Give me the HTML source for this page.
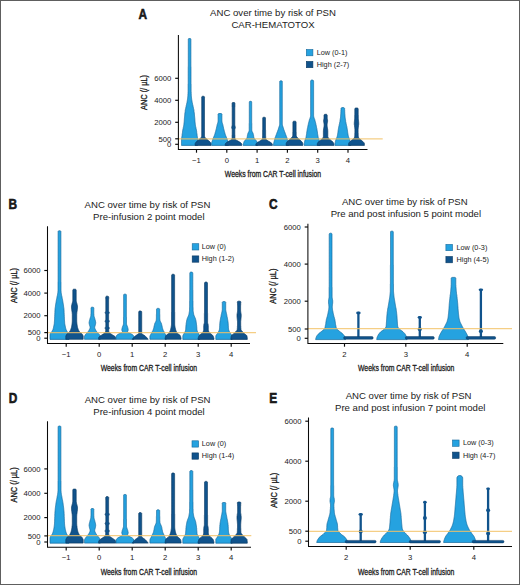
<!DOCTYPE html><html><head><meta charset="utf-8"><style>html,body{margin:0;padding:0;background:#fff;}svg{display:block;}text{font-family:"Liberation Sans",sans-serif;fill:#222;}</style></head><body>
<svg width="520" height="585" viewBox="0 0 520 585">
<rect x="0" y="0" width="520" height="585" fill="#fff"/>
<text x="0" y="0" font-size="13.8" font-weight="bold" fill="#000" stroke="#000" stroke-width="0.5" transform="translate(138.6,19) scale(0.86,1)">A</text>
<text x="273" y="15.8" font-size="9.6" text-anchor="middle" font-weight="normal" >ANC over time by risk of PSN</text>
<text x="273" y="27.9" font-size="9.6" text-anchor="middle" font-weight="normal" >CAR-HEMATOTOX</text>
<path d="M190.1,38.5 190.4,38.6 190.7,38.7 190.8,39 190.9,39.3 190.9,39.9 190.9,40.5 190.9,41.1 190.9,41.7 190.9,42.3 190.9,42.9 190.9,43.5 190.9,44.1 190.9,44.7 190.9,45.3 190.9,45.9 190.9,46.5 190.9,47.1 190.9,47.7 190.9,48.3 190.9,48.9 190.9,49.5 190.9,50.1 190.9,50.7 190.9,51.3 190.9,51.9 190.9,52.5 190.9,53.1 190.9,53.7 190.9,54.3 190.9,54.9 190.9,55.5 190.9,56.1 190.9,56.7 190.9,57.3 190.9,57.9 190.9,58.5 190.9,59.1 190.9,59.7 190.9,60.3 190.9,60.9 190.9,61.5 190.9,62.1 190.9,62.7 190.9,63.3 190.9,63.9 190.9,64.5 190.9,65.1 190.9,65.7 190.9,66.3 191,66.9 191,67.5 191,68.1 191,68.7 191,69.3 191,69.9 191,70.5 191,71.1 191,71.7 191,72.3 191,72.9 191,73.5 191,74.1 191,74.7 191,75.3 191,75.9 191,76.5 191,77.1 191,77.7 191,78.3 191,78.9 191,79.5 191,80.1 191,80.7 191,81.3 191,81.9 191,82.5 191,83.1 191,83.7 191.1,84.3 191.1,84.9 191.1,85.5 191.1,86.1 191.1,86.7 191.1,87.3 191.1,87.9 191.1,88.5 191.1,89.1 191.1,89.7 191.1,90.3 191.1,90.9 191.1,91.5 191.2,92.1 191.2,92.7 191.2,93.3 191.2,93.9 191.3,94.5 191.3,95.1 191.3,95.7 191.4,96.3 191.4,96.9 191.5,97.5 191.6,98.1 191.6,98.7 191.7,99.3 191.8,99.9 191.9,100.5 192,101.1 192.1,101.7 192.2,102.3 192.3,102.9 192.5,103.5 192.6,104.1 192.7,104.7 192.9,105.3 193,105.9 193.1,106.5 193.3,107.1 193.4,107.7 193.5,108.3 193.6,108.9 193.8,109.5 193.9,110.1 194,110.7 194,111.3 194.1,111.9 194.2,112.5 194.3,113.1 194.4,113.7 194.4,114.3 194.5,114.9 194.5,115.5 194.6,116.1 194.6,116.7 194.7,117.3 194.7,117.9 194.8,118.5 194.8,119.1 194.9,119.7 194.9,120.3 195,120.9 195,121.5 195.1,122.1 195.1,122.7 195.2,123.3 195.3,123.9 195.3,124.5 195.4,125.1 195.5,125.7 195.6,126.3 195.7,126.9 195.9,127.5 196,128.1 196.1,128.7 196.3,129.3 196.4,129.9 196.5,130.5 196.6,131.1 196.7,131.7 196.7,132.3 196.8,132.9 196.9,133.5 197,134.1 197.1,134.7 197.1,135.3 197.2,135.9 197.3,136.5 197.4,137.1 197.5,137.7 197.6,138.3 197.6,138.9 197.7,139.5 197.7,140.1 197.7,140.7 197.7,141.3 197.7,141.9 197.7,142.5 197.7,143.1 197.7,143.7 197.7,144.3 197.7,144.9 197.7,145.4 181.5,145.4 181.5,144.9 181.5,144.3 181.5,143.7 181.5,143.1 181.5,142.5 181.5,141.9 181.5,141.3 181.5,140.7 181.5,140.1 181.5,139.5 181.6,138.9 181.6,138.3 181.7,137.7 181.8,137.1 181.9,136.5 182,135.9 182.1,135.3 182.1,134.7 182.2,134.1 182.3,133.5 182.4,132.9 182.5,132.3 182.5,131.7 182.6,131.1 182.7,130.5 182.8,129.9 182.9,129.3 183.1,128.7 183.2,128.1 183.3,127.5 183.5,126.9 183.6,126.3 183.7,125.7 183.8,125.1 183.9,124.5 183.9,123.9 184,123.3 184.1,122.7 184.1,122.1 184.2,121.5 184.2,120.9 184.3,120.3 184.3,119.7 184.4,119.1 184.4,118.5 184.5,117.9 184.5,117.3 184.6,116.7 184.6,116.1 184.7,115.5 184.7,114.9 184.8,114.3 184.8,113.7 184.9,113.1 185,112.5 185.1,111.9 185.2,111.3 185.2,110.7 185.3,110.1 185.4,109.5 185.6,108.9 185.7,108.3 185.8,107.7 185.9,107.1 186.1,106.5 186.2,105.9 186.3,105.3 186.5,104.7 186.6,104.1 186.7,103.5 186.9,102.9 187,102.3 187.1,101.7 187.2,101.1 187.3,100.5 187.4,99.9 187.5,99.3 187.6,98.7 187.6,98.1 187.7,97.5 187.8,96.9 187.8,96.3 187.9,95.7 187.9,95.1 187.9,94.5 188,93.9 188,93.3 188,92.7 188,92.1 188.1,91.5 188.1,90.9 188.1,90.3 188.1,89.7 188.1,89.1 188.1,88.5 188.1,87.9 188.1,87.3 188.1,86.7 188.1,86.1 188.1,85.5 188.1,84.9 188.1,84.3 188.2,83.7 188.2,83.1 188.2,82.5 188.2,81.9 188.2,81.3 188.2,80.7 188.2,80.1 188.2,79.5 188.2,78.9 188.2,78.3 188.2,77.7 188.2,77.1 188.2,76.5 188.2,75.9 188.2,75.3 188.2,74.7 188.2,74.1 188.2,73.5 188.2,72.9 188.2,72.3 188.2,71.7 188.2,71.1 188.2,70.5 188.2,69.9 188.2,69.3 188.2,68.7 188.2,68.1 188.2,67.5 188.2,66.9 188.3,66.3 188.3,65.7 188.3,65.1 188.3,64.5 188.3,63.9 188.3,63.3 188.3,62.7 188.3,62.1 188.3,61.5 188.3,60.9 188.3,60.3 188.3,59.7 188.3,59.1 188.3,58.5 188.3,57.9 188.3,57.3 188.3,56.7 188.3,56.1 188.3,55.5 188.3,54.9 188.3,54.3 188.3,53.7 188.3,53.1 188.3,52.5 188.3,51.9 188.3,51.3 188.3,50.7 188.3,50.1 188.3,49.5 188.3,48.9 188.3,48.3 188.3,47.7 188.3,47.1 188.3,46.5 188.3,45.9 188.3,45.3 188.3,44.7 188.3,44.1 188.3,43.5 188.3,42.9 188.3,42.3 188.3,41.7 188.3,41.1 188.3,40.5 188.3,39.9 188.3,39.3 188.4,39 188.5,38.7 188.8,38.6 189.1,38.5Z" fill="#25a2e0" stroke="#16699c" stroke-width="0.7" stroke-linejoin="round"/>
<path d="M203.7,96.3 204,96.4 204.3,96.6 204.5,96.9 204.6,97.2 204.5,97.8 204.5,98.4 204.5,99 204.5,99.6 204.5,100.2 204.5,100.8 204.5,101.4 204.5,102 204.5,102.6 204.5,103.2 204.5,103.8 204.5,104.4 204.5,105 204.5,105.6 204.5,106.2 204.5,106.8 204.5,107.4 204.5,108 204.5,108.6 204.5,109.2 204.5,109.8 204.5,110.4 204.5,111 204.5,111.6 204.5,112.2 204.5,112.8 204.5,113.4 204.5,114 204.5,114.6 204.5,115.2 204.5,115.8 204.5,116.4 204.5,117 204.5,117.6 204.5,118.2 204.5,118.8 204.5,119.4 204.5,120 204.5,120.6 204.5,121.2 204.5,121.8 204.5,122.4 204.5,123 204.5,123.6 204.5,124.2 204.5,124.8 204.5,125.4 204.5,126 204.5,126.6 204.5,127.2 204.5,127.8 204.5,128.4 204.5,129 204.5,129.6 204.5,130.2 204.5,130.8 204.5,131.4 204.5,132 204.5,132.6 204.5,133.2 204.5,133.8 204.5,134.4 204.5,135 204.5,135.6 204.5,136.2 204.7,136.8 205,137.4 205.5,138 206.1,138.6 206.8,139.2 207.6,139.8 208.3,140.4 209,141 209.7,141.6 210.2,142.2 210.7,142.8 211,143.4 211.1,144 211.1,144.6 211.1,145.2 211.1,145.4 195.1,145.4 195.1,145.2 195.1,144.6 195.1,144 195.2,143.4 195.5,142.8 196,142.2 196.5,141.6 197.2,141 197.9,140.4 198.6,139.8 199.4,139.2 200.1,138.6 200.7,138 201.2,137.4 201.5,136.8 201.7,136.2 201.7,135.6 201.7,135 201.7,134.4 201.7,133.8 201.7,133.2 201.7,132.6 201.7,132 201.7,131.4 201.7,130.8 201.7,130.2 201.7,129.6 201.7,129 201.7,128.4 201.7,127.8 201.7,127.2 201.7,126.6 201.7,126 201.7,125.4 201.7,124.8 201.7,124.2 201.7,123.6 201.7,123 201.7,122.4 201.7,121.8 201.7,121.2 201.7,120.6 201.7,120 201.7,119.4 201.7,118.8 201.7,118.2 201.7,117.6 201.7,117 201.7,116.4 201.7,115.8 201.7,115.2 201.7,114.6 201.7,114 201.7,113.4 201.7,112.8 201.7,112.2 201.7,111.6 201.7,111 201.7,110.4 201.7,109.8 201.7,109.2 201.7,108.6 201.7,108 201.7,107.4 201.7,106.8 201.7,106.2 201.7,105.6 201.7,105 201.7,104.4 201.7,103.8 201.7,103.2 201.7,102.6 201.7,102 201.7,101.4 201.7,100.8 201.7,100.2 201.7,99.6 201.7,99 201.7,98.4 201.7,97.8 201.6,97.2 201.7,96.9 201.9,96.6 202.2,96.4 202.5,96.3Z" fill="#10538c" stroke="#0a3a62" stroke-width="0.7" stroke-linejoin="round"/>
<path d="M221.1,113.5 221.4,113.6 221.7,113.8 221.9,114.1 222,114.4 221.9,115 221.9,115.6 221.9,116.2 221.9,116.8 221.9,117.4 221.9,118 221.9,118.6 221.9,119.2 221.9,119.8 221.9,120.4 221.9,121 222,121.6 222.1,122.2 222.2,122.8 222.4,123.4 222.6,124 222.8,124.6 222.9,125.2 223.1,125.8 223.2,126.4 223.3,127 223.5,127.6 223.6,128.2 223.7,128.8 223.9,129.4 224,130 224.2,130.6 224.3,131.2 224.5,131.8 224.7,132.4 224.9,133 225,133.6 225.2,134.2 225.4,134.8 225.6,135.4 225.9,136 226.1,136.6 226.4,137.2 226.6,137.8 226.9,138.4 227.1,139 227.3,139.6 227.5,140.2 227.7,140.8 227.9,141.4 228.1,142 228.3,142.6 228.4,143.2 228.4,143.8 228.4,144.4 228.4,145 228.4,145.4 211.6,145.4 211.6,145 211.6,144.4 211.6,143.8 211.6,143.2 211.7,142.6 211.9,142 212.1,141.4 212.3,140.8 212.5,140.2 212.7,139.6 212.9,139 213.1,138.4 213.4,137.8 213.6,137.2 213.9,136.6 214.1,136 214.4,135.4 214.6,134.8 214.8,134.2 215,133.6 215.1,133 215.3,132.4 215.5,131.8 215.7,131.2 215.8,130.6 216,130 216.1,129.4 216.3,128.8 216.4,128.2 216.5,127.6 216.7,127 216.8,126.4 216.9,125.8 217.1,125.2 217.2,124.6 217.4,124 217.6,123.4 217.8,122.8 217.9,122.2 218,121.6 218.1,121 218.1,120.4 218.1,119.8 218.1,119.2 218.1,118.6 218.1,118 218.1,117.4 218.1,116.8 218.1,116.2 218.1,115.6 218.1,115 218,114.4 218.1,114.1 218.3,113.8 218.6,113.6 218.9,113.5Z" fill="#25a2e0" stroke="#16699c" stroke-width="0.7" stroke-linejoin="round"/>
<path d="M234.1,102.5 234.4,102.6 234.7,102.7 234.8,103 234.9,103.3 234.9,103.9 234.9,104.5 234.9,105.1 234.9,105.7 234.9,106.3 234.9,106.9 234.8,107.5 234.8,108.1 234.8,108.7 234.8,109.3 234.8,109.9 234.8,110.5 234.8,111.1 234.8,111.7 234.8,112.3 234.8,112.9 234.8,113.5 234.8,114.1 234.8,114.7 234.8,115.3 234.8,115.9 234.8,116.5 234.8,117.1 234.8,117.7 234.8,118.3 234.8,118.9 234.8,119.5 234.8,120.1 234.8,120.7 234.8,121.3 234.8,121.9 234.8,122.5 234.8,123.1 234.8,123.7 234.8,124.3 234.8,124.9 234.9,125.5 235,126.1 235.2,126.7 235.3,127.3 235.3,127.9 235.1,128.5 234.9,129.1 234.8,129.7 234.8,130.3 234.8,130.9 234.8,131.5 234.8,132.1 234.8,132.7 234.8,133.3 234.8,133.9 234.8,134.5 234.9,135.1 234.9,135.7 234.9,136.3 234.9,136.9 234.9,137.5 235,138.1 235.1,138.7 235.4,139.3 236.1,139.9 237,140.5 238,141.1 239.1,141.7 240.1,142.3 240.9,142.9 241.5,143.5 241.8,144.1 241.8,144.7 241.8,145.3 241.8,145.4 225.2,145.4 225.2,145.3 225.2,144.7 225.2,144.1 225.5,143.5 226.1,142.9 226.9,142.3 227.9,141.7 229,141.1 230,140.5 230.9,139.9 231.6,139.3 231.9,138.7 232,138.1 232.1,137.5 232.1,136.9 232.1,136.3 232.1,135.7 232.1,135.1 232.2,134.5 232.2,133.9 232.2,133.3 232.2,132.7 232.2,132.1 232.2,131.5 232.2,130.9 232.2,130.3 232.2,129.7 232.1,129.1 231.9,128.5 231.7,127.9 231.7,127.3 231.8,126.7 232,126.1 232.1,125.5 232.2,124.9 232.2,124.3 232.2,123.7 232.2,123.1 232.2,122.5 232.2,121.9 232.2,121.3 232.2,120.7 232.2,120.1 232.2,119.5 232.2,118.9 232.2,118.3 232.2,117.7 232.2,117.1 232.2,116.5 232.2,115.9 232.2,115.3 232.2,114.7 232.2,114.1 232.2,113.5 232.2,112.9 232.2,112.3 232.2,111.7 232.2,111.1 232.2,110.5 232.2,109.9 232.2,109.3 232.2,108.7 232.2,108.1 232.2,107.5 232.1,106.9 232.1,106.3 232.1,105.7 232.1,105.1 232.1,104.5 232.1,103.9 232.1,103.3 232.2,103 232.3,102.7 232.6,102.6 232.9,102.5Z" fill="#10538c" stroke="#0a3a62" stroke-width="0.7" stroke-linejoin="round"/>
<path d="M251,101.3 251.3,101.4 251.5,101.5 251.6,101.7 251.7,102 251.7,102.6 251.7,103.2 251.7,103.8 251.7,104.4 251.7,105 251.7,105.6 251.7,106.2 251.7,106.8 251.7,107.4 251.7,108 251.7,108.6 251.7,109.2 251.7,109.8 251.7,110.4 251.7,111 251.7,111.6 251.7,112.2 251.7,112.8 251.7,113.4 251.7,114 251.7,114.6 251.7,115.2 251.7,115.8 251.7,116.4 251.7,117 251.7,117.6 251.7,118.2 251.7,118.8 251.7,119.4 251.7,120 251.7,120.6 251.7,121.2 251.7,121.8 251.7,122.4 251.7,123 251.8,123.6 251.8,124.2 251.8,124.8 251.8,125.4 251.8,126 251.8,126.6 251.8,127.2 251.8,127.8 251.8,128.4 251.8,129 251.8,129.6 251.8,130.2 251.9,130.8 252.1,131.4 252.4,132 252.7,132.6 253,133.2 253.2,133.8 253.3,134.4 253.5,135 253.6,135.6 253.6,136.2 253.8,136.8 253.9,137.4 254.1,138 254.4,138.6 254.9,139.2 255.5,139.8 256,140.4 256.5,141 256.9,141.6 257.1,142.2 257.3,142.8 257.5,143.4 257.7,144 257.8,144.6 257.9,145.2 257.9,145.4 243.1,145.4 243.1,145.2 243.2,144.6 243.3,144 243.5,143.4 243.7,142.8 243.9,142.2 244.1,141.6 244.5,141 245,140.4 245.5,139.8 246.1,139.2 246.6,138.6 246.9,138 247.1,137.4 247.2,136.8 247.4,136.2 247.4,135.6 247.5,135 247.7,134.4 247.8,133.8 248,133.2 248.3,132.6 248.6,132 248.9,131.4 249.1,130.8 249.2,130.2 249.2,129.6 249.2,129 249.2,128.4 249.2,127.8 249.2,127.2 249.2,126.6 249.2,126 249.2,125.4 249.2,124.8 249.2,124.2 249.2,123.6 249.3,123 249.3,122.4 249.3,121.8 249.3,121.2 249.3,120.6 249.3,120 249.3,119.4 249.3,118.8 249.3,118.2 249.3,117.6 249.3,117 249.3,116.4 249.3,115.8 249.3,115.2 249.3,114.6 249.3,114 249.3,113.4 249.3,112.8 249.3,112.2 249.3,111.6 249.3,111 249.3,110.4 249.3,109.8 249.3,109.2 249.3,108.6 249.3,108 249.3,107.4 249.3,106.8 249.3,106.2 249.3,105.6 249.3,105 249.3,104.4 249.3,103.8 249.3,103.2 249.3,102.6 249.3,102 249.4,101.7 249.5,101.5 249.7,101.4 250,101.3Z" fill="#25a2e0" stroke="#16699c" stroke-width="0.7" stroke-linejoin="round"/>
<path d="M264.7,117.3 265,117.4 265.3,117.5 265.4,117.8 265.5,118.1 265.5,118.7 265.5,119.3 265.5,119.9 265.5,120.5 265.5,121.1 265.5,121.7 265.5,122.3 265.5,122.9 265.5,123.5 265.5,124.1 265.5,124.7 265.5,125.3 265.5,125.9 265.5,126.5 265.5,127.1 265.5,127.7 265.5,128.3 265.5,128.9 265.5,129.5 265.6,130.1 265.6,130.7 265.6,131.3 265.6,131.9 265.6,132.5 265.6,133.1 265.6,133.7 265.6,134.3 265.6,134.9 265.6,135.5 265.6,136.1 265.7,136.7 265.7,137.3 265.7,137.9 265.7,138.5 265.9,139.1 266.4,139.7 267.2,140.3 268.1,140.9 269.1,141.5 270.1,142.1 271,142.7 271.8,143.3 272.2,143.9 272.4,144.5 272.4,145.1 272.4,145.4 255.8,145.4 255.8,145.1 255.8,144.5 256,143.9 256.4,143.3 257.2,142.7 258.1,142.1 259.1,141.5 260.1,140.9 261,140.3 261.8,139.7 262.3,139.1 262.5,138.5 262.5,137.9 262.5,137.3 262.5,136.7 262.6,136.1 262.6,135.5 262.6,134.9 262.6,134.3 262.6,133.7 262.6,133.1 262.6,132.5 262.6,131.9 262.6,131.3 262.6,130.7 262.6,130.1 262.7,129.5 262.7,128.9 262.7,128.3 262.7,127.7 262.7,127.1 262.7,126.5 262.7,125.9 262.7,125.3 262.7,124.7 262.7,124.1 262.7,123.5 262.7,122.9 262.7,122.3 262.7,121.7 262.7,121.1 262.7,120.5 262.7,119.9 262.7,119.3 262.7,118.7 262.7,118.1 262.8,117.8 262.9,117.5 263.2,117.4 263.5,117.3Z" fill="#10538c" stroke="#0a3a62" stroke-width="0.7" stroke-linejoin="round"/>
<path d="M281.5,80.8 281.8,80.9 282.1,81 282.2,81.3 282.3,81.6 282.3,82.2 282.3,82.8 282.3,83.4 282.3,84 282.3,84.6 282.3,85.2 282.3,85.8 282.3,86.4 282.3,87 282.3,87.6 282.3,88.2 282.3,88.8 282.3,89.4 282.3,90 282.3,90.6 282.3,91.2 282.3,91.8 282.3,92.4 282.3,93 282.3,93.6 282.3,94.2 282.3,94.8 282.3,95.4 282.3,96 282.3,96.6 282.3,97.2 282.3,97.8 282.3,98.4 282.3,99 282.3,99.6 282.3,100.2 282.3,100.8 282.3,101.4 282.3,102 282.3,102.6 282.3,103.2 282.3,103.8 282.3,104.4 282.3,105 282.3,105.6 282.3,106.2 282.3,106.8 282.3,107.4 282.3,108 282.3,108.6 282.3,109.2 282.3,109.8 282.3,110.4 282.3,111 282.3,111.6 282.3,112.2 282.3,112.8 282.3,113.4 282.3,114 282.3,114.6 282.3,115.2 282.3,115.8 282.3,116.4 282.3,117 282.3,117.6 282.3,118.2 282.3,118.8 282.3,119.4 282.3,120 282.3,120.6 282.3,121.2 282.3,121.8 282.3,122.4 282.3,123 282.3,123.6 282.3,124.2 282.4,124.8 282.5,125.4 282.7,126 282.9,126.6 283.1,127.2 283.3,127.8 283.5,128.4 283.7,129 283.8,129.6 284.1,130.2 284.3,130.8 284.5,131.4 284.7,132 285,132.6 285.2,133.2 285.4,133.8 285.6,134.4 285.9,135 286.1,135.6 286.3,136.2 286.5,136.8 286.8,137.4 287,138 287.1,138.6 287.3,139.2 287.5,139.8 287.6,140.4 287.8,141 287.9,141.6 288.1,142.2 288.2,142.8 288.3,143.4 288.5,144 288.6,144.6 288.7,145.2 288.7,145.4 273.3,145.4 273.3,145.2 273.4,144.6 273.5,144 273.7,143.4 273.8,142.8 273.9,142.2 274.1,141.6 274.2,141 274.4,140.4 274.5,139.8 274.7,139.2 274.9,138.6 275,138 275.2,137.4 275.5,136.8 275.7,136.2 275.9,135.6 276.1,135 276.4,134.4 276.6,133.8 276.8,133.2 277,132.6 277.3,132 277.5,131.4 277.7,130.8 277.9,130.2 278.2,129.6 278.3,129 278.5,128.4 278.7,127.8 278.9,127.2 279.1,126.6 279.3,126 279.5,125.4 279.6,124.8 279.7,124.2 279.7,123.6 279.7,123 279.7,122.4 279.7,121.8 279.7,121.2 279.7,120.6 279.7,120 279.7,119.4 279.7,118.8 279.7,118.2 279.7,117.6 279.7,117 279.7,116.4 279.7,115.8 279.7,115.2 279.7,114.6 279.7,114 279.7,113.4 279.7,112.8 279.7,112.2 279.7,111.6 279.7,111 279.7,110.4 279.7,109.8 279.7,109.2 279.7,108.6 279.7,108 279.7,107.4 279.7,106.8 279.7,106.2 279.7,105.6 279.7,105 279.7,104.4 279.7,103.8 279.7,103.2 279.7,102.6 279.7,102 279.7,101.4 279.7,100.8 279.7,100.2 279.7,99.6 279.7,99 279.7,98.4 279.7,97.8 279.7,97.2 279.7,96.6 279.7,96 279.7,95.4 279.7,94.8 279.7,94.2 279.7,93.6 279.7,93 279.7,92.4 279.7,91.8 279.7,91.2 279.7,90.6 279.7,90 279.7,89.4 279.7,88.8 279.7,88.2 279.7,87.6 279.7,87 279.7,86.4 279.7,85.8 279.7,85.2 279.7,84.6 279.7,84 279.7,83.4 279.7,82.8 279.7,82.2 279.7,81.6 279.8,81.3 279.9,81 280.2,80.9 280.5,80.8Z" fill="#25a2e0" stroke="#16699c" stroke-width="0.7" stroke-linejoin="round"/>
<path d="M295.2,121.2 295.5,121.3 295.8,121.5 296,121.8 296.1,122.1 296.1,122.7 296.1,123.3 296.1,123.9 296.1,124.5 296.1,125.1 296.1,125.7 296.1,126.3 296.1,126.9 296.1,127.5 296.1,128.1 296.1,128.7 296.1,129.3 296.1,129.9 296.1,130.5 296.1,131.1 296.1,131.7 296.2,132.3 296.2,132.9 296.2,133.5 296.2,134.1 296.2,134.7 296.2,135.3 296.3,135.9 296.5,136.5 297,137.1 297.5,137.7 298.1,138.3 298.7,138.9 299.4,139.5 300.1,140.1 300.8,140.7 301.4,141.3 302,141.9 302.4,142.5 302.7,143.1 302.8,143.7 302.8,144.3 302.8,144.9 302.8,145.4 286.2,145.4 286.2,144.9 286.2,144.3 286.2,143.7 286.3,143.1 286.6,142.5 287,141.9 287.6,141.3 288.2,140.7 288.9,140.1 289.6,139.5 290.3,138.9 290.9,138.3 291.5,137.7 292,137.1 292.5,136.5 292.7,135.9 292.8,135.3 292.8,134.7 292.8,134.1 292.8,133.5 292.8,132.9 292.8,132.3 292.9,131.7 292.9,131.1 292.9,130.5 292.9,129.9 292.9,129.3 292.9,128.7 292.9,128.1 292.9,127.5 292.9,126.9 292.9,126.3 292.9,125.7 292.9,125.1 292.9,124.5 292.9,123.9 292.9,123.3 292.9,122.7 292.9,122.1 293,121.8 293.2,121.5 293.5,121.3 293.8,121.2Z" fill="#10538c" stroke="#0a3a62" stroke-width="0.7" stroke-linejoin="round"/>
<path d="M312.7,80.1 313,80.2 313.3,80.4 313.5,80.7 313.6,81 313.6,81.6 313.6,82.2 313.6,82.8 313.6,83.4 313.6,84 313.6,84.6 313.6,85.2 313.6,85.8 313.6,86.4 313.6,87 313.6,87.6 313.6,88.2 313.6,88.8 313.6,89.4 313.6,90 313.6,90.6 313.6,91.2 313.6,91.8 313.6,92.4 313.6,93 313.6,93.6 313.6,94.2 313.6,94.8 313.6,95.4 313.6,96 313.6,96.6 313.6,97.2 313.6,97.8 313.6,98.4 313.6,99 313.6,99.6 313.6,100.2 313.6,100.8 313.6,101.4 313.6,102 313.6,102.6 313.6,103.2 313.6,103.8 313.6,104.4 313.6,105 313.6,105.6 313.6,106.2 313.6,106.8 313.6,107.4 313.6,108 313.6,108.6 313.6,109.2 313.6,109.8 313.6,110.4 313.6,111 313.6,111.6 313.6,112.2 313.6,112.8 313.6,113.4 313.6,114 313.6,114.6 313.6,115.2 313.6,115.8 313.7,116.4 313.8,117 314,117.6 314.2,118.2 314.4,118.8 314.7,119.4 314.9,120 315,120.6 315.2,121.2 315.3,121.8 315.5,122.4 315.6,123 315.8,123.6 315.9,124.2 316,124.8 316.2,125.4 316.3,126 316.4,126.6 316.5,127.2 316.6,127.8 316.8,128.4 316.9,129 317,129.6 317.1,130.2 317.2,130.8 317.3,131.4 317.4,132 317.5,132.6 317.5,133.2 317.6,133.8 317.7,134.4 317.8,135 317.9,135.6 318,136.2 318.1,136.8 318.2,137.4 318.4,138 318.7,138.6 318.9,139.2 319.1,139.8 319.3,140.4 319.5,141 319.6,141.6 319.7,142.2 319.8,142.8 319.9,143.4 320,144 320.1,144.6 320.1,145.2 320.1,145.4 304.1,145.4 304.1,145.2 304.1,144.6 304.2,144 304.3,143.4 304.4,142.8 304.5,142.2 304.6,141.6 304.7,141 304.9,140.4 305.1,139.8 305.3,139.2 305.5,138.6 305.8,138 306,137.4 306.1,136.8 306.2,136.2 306.3,135.6 306.4,135 306.5,134.4 306.6,133.8 306.7,133.2 306.7,132.6 306.8,132 306.9,131.4 307,130.8 307.1,130.2 307.2,129.6 307.3,129 307.4,128.4 307.6,127.8 307.7,127.2 307.8,126.6 307.9,126 308,125.4 308.2,124.8 308.3,124.2 308.4,123.6 308.6,123 308.7,122.4 308.9,121.8 309,121.2 309.2,120.6 309.3,120 309.5,119.4 309.8,118.8 310,118.2 310.2,117.6 310.4,117 310.5,116.4 310.6,115.8 310.6,115.2 310.6,114.6 310.6,114 310.6,113.4 310.6,112.8 310.6,112.2 310.6,111.6 310.6,111 310.6,110.4 310.6,109.8 310.6,109.2 310.6,108.6 310.6,108 310.6,107.4 310.6,106.8 310.6,106.2 310.6,105.6 310.6,105 310.6,104.4 310.6,103.8 310.6,103.2 310.6,102.6 310.6,102 310.6,101.4 310.6,100.8 310.6,100.2 310.6,99.6 310.6,99 310.6,98.4 310.6,97.8 310.6,97.2 310.6,96.6 310.6,96 310.6,95.4 310.6,94.8 310.6,94.2 310.6,93.6 310.6,93 310.6,92.4 310.6,91.8 310.6,91.2 310.6,90.6 310.6,90 310.6,89.4 310.6,88.8 310.6,88.2 310.6,87.6 310.6,87 310.6,86.4 310.6,85.8 310.6,85.2 310.6,84.6 310.6,84 310.6,83.4 310.6,82.8 310.6,82.2 310.6,81.6 310.6,81 310.7,80.7 310.9,80.4 311.2,80.2 311.5,80.1Z" fill="#25a2e0" stroke="#16699c" stroke-width="0.7" stroke-linejoin="round"/>
<path d="M326.3,114.3 326.6,114.4 326.9,114.6 327.1,114.9 327.2,115.2 327.2,115.8 327.2,116.4 327.2,117 327.2,117.6 327.2,118.2 327.3,118.8 327.4,119.4 327.5,120 327.6,120.6 327.6,121.2 327.5,121.8 327.4,122.4 327.3,123 327.2,123.6 327.1,124.2 327.1,124.8 327.1,125.4 327.1,126 327.2,126.6 327.3,127.2 327.4,127.8 327.5,128.4 327.6,129 327.7,129.6 327.7,130.2 327.8,130.8 327.8,131.4 327.8,132 327.8,132.6 327.8,133.2 327.8,133.8 327.8,134.4 327.8,135 327.8,135.6 327.8,136.2 327.8,136.8 328,137.4 328.4,138 329,138.6 329.6,139.2 330.3,139.8 331,140.4 331.8,141 332.4,141.6 333,142.2 333.5,142.8 333.8,143.4 333.9,144 333.9,144.6 333.9,145.2 333.9,145.4 317.3,145.4 317.3,145.2 317.3,144.6 317.3,144 317.4,143.4 317.7,142.8 318.2,142.2 318.8,141.6 319.4,141 320.2,140.4 320.9,139.8 321.6,139.2 322.2,138.6 322.8,138 323.2,137.4 323.4,136.8 323.4,136.2 323.4,135.6 323.4,135 323.4,134.4 323.4,133.8 323.4,133.2 323.4,132.6 323.4,132 323.4,131.4 323.4,130.8 323.5,130.2 323.5,129.6 323.6,129 323.7,128.4 323.8,127.8 323.9,127.2 324,126.6 324.1,126 324.1,125.4 324.1,124.8 324.1,124.2 324,123.6 323.9,123 323.8,122.4 323.7,121.8 323.6,121.2 323.6,120.6 323.7,120 323.8,119.4 323.9,118.8 324,118.2 324,117.6 324,117 324,116.4 324,115.8 324,115.2 324.1,114.9 324.3,114.6 324.6,114.4 324.9,114.3Z" fill="#10538c" stroke="#0a3a62" stroke-width="0.7" stroke-linejoin="round"/>
<path d="M343.7,107.6 344,107.7 344.3,107.9 344.5,108.2 344.6,108.5 344.6,109.1 344.6,109.7 344.7,110.3 344.7,110.9 344.7,111.5 344.7,112.1 344.8,112.7 344.8,113.3 344.8,113.9 344.9,114.5 344.9,115.1 345,115.7 345,116.3 345.1,116.9 345.1,117.5 345.2,118.1 345.3,118.7 345.4,119.3 345.5,119.9 345.6,120.5 345.6,121.1 345.7,121.7 345.9,122.3 346,122.9 346.1,123.5 346.2,124.1 346.4,124.7 346.5,125.3 346.6,125.9 346.8,126.5 346.9,127.1 347,127.7 347.1,128.3 347.2,128.9 347.3,129.5 347.4,130.1 347.5,130.7 347.6,131.3 347.6,131.9 347.7,132.5 347.8,133.1 347.9,133.7 348,134.3 348.1,134.9 348.2,135.5 348.3,136.1 348.5,136.7 348.7,137.3 349,137.9 349.2,138.5 349.5,139.1 349.7,139.7 349.9,140.3 350.1,140.9 350.2,141.5 350.3,142.1 350.4,142.7 350.5,143.3 350.6,143.9 350.7,144.5 350.8,145.1 350.8,145.4 334.8,145.4 334.8,145.1 334.9,144.5 335,143.9 335.1,143.3 335.2,142.7 335.3,142.1 335.4,141.5 335.5,140.9 335.7,140.3 335.9,139.7 336.1,139.1 336.4,138.5 336.6,137.9 336.9,137.3 337.1,136.7 337.3,136.1 337.4,135.5 337.5,134.9 337.6,134.3 337.7,133.7 337.8,133.1 337.9,132.5 338,131.9 338,131.3 338.1,130.7 338.2,130.1 338.3,129.5 338.4,128.9 338.5,128.3 338.6,127.7 338.7,127.1 338.8,126.5 339,125.9 339.1,125.3 339.2,124.7 339.4,124.1 339.5,123.5 339.6,122.9 339.7,122.3 339.9,121.7 340,121.1 340,120.5 340.1,119.9 340.2,119.3 340.3,118.7 340.4,118.1 340.5,117.5 340.5,116.9 340.6,116.3 340.6,115.7 340.7,115.1 340.7,114.5 340.8,113.9 340.8,113.3 340.8,112.7 340.9,112.1 340.9,111.5 340.9,110.9 340.9,110.3 341,109.7 341,109.1 341,108.5 341.1,108.2 341.3,107.9 341.6,107.7 341.9,107.6Z" fill="#25a2e0" stroke="#16699c" stroke-width="0.7" stroke-linejoin="round"/>
<path d="M357.3,108 357.6,108.1 357.9,108.3 358.1,108.6 358.2,108.9 358.2,109.5 358.2,110.1 358.2,110.7 358.2,111.3 358.2,111.9 358.2,112.5 358.2,113.1 358.2,113.7 358.2,114.3 358.2,114.9 358.3,115.5 358.3,116.1 358.3,116.7 358.3,117.3 358.3,117.9 358.3,118.5 358.4,119.1 358.4,119.7 358.5,120.3 358.5,120.9 358.6,121.5 358.6,122.1 358.7,122.7 358.7,123.3 358.7,123.9 358.7,124.5 358.6,125.1 358.5,125.7 358.5,126.3 358.4,126.9 358.3,127.5 358.2,128.1 358.2,128.7 358.1,129.3 358.1,129.9 358.1,130.5 358.1,131.1 358.1,131.7 358.1,132.3 358.1,132.9 358.2,133.5 358.2,134.1 358.2,134.7 358.2,135.3 358.3,135.9 358.3,136.5 358.4,137.1 358.7,137.7 359.2,138.3 359.8,138.9 360.4,139.5 361.2,140.1 361.9,140.7 362.6,141.3 363.2,141.9 363.8,142.5 364.2,143.1 364.4,143.7 364.4,144.3 364.4,144.9 364.4,145.4 348.6,145.4 348.6,144.9 348.6,144.3 348.6,143.7 348.8,143.1 349.2,142.5 349.8,141.9 350.4,141.3 351.1,140.7 351.8,140.1 352.6,139.5 353.2,138.9 353.8,138.3 354.3,137.7 354.6,137.1 354.7,136.5 354.7,135.9 354.8,135.3 354.8,134.7 354.8,134.1 354.8,133.5 354.9,132.9 354.9,132.3 354.9,131.7 354.9,131.1 354.9,130.5 354.9,129.9 354.9,129.3 354.8,128.7 354.8,128.1 354.7,127.5 354.6,126.9 354.5,126.3 354.5,125.7 354.4,125.1 354.3,124.5 354.3,123.9 354.3,123.3 354.3,122.7 354.4,122.1 354.4,121.5 354.5,120.9 354.5,120.3 354.6,119.7 354.6,119.1 354.7,118.5 354.7,117.9 354.7,117.3 354.7,116.7 354.7,116.1 354.7,115.5 354.8,114.9 354.8,114.3 354.8,113.7 354.8,113.1 354.8,112.5 354.8,111.9 354.8,111.3 354.8,110.7 354.8,110.1 354.8,109.5 354.8,108.9 354.9,108.6 355.1,108.3 355.4,108.1 355.7,108Z" fill="#10538c" stroke="#0a3a62" stroke-width="0.7" stroke-linejoin="round"/>
<line x1="178.2" y1="138.9" x2="382.7" y2="138.9" stroke="#f2c266" stroke-width="1.2" stroke-opacity="0.8"/>
<path d="M178.4,35 V149.5 H367.5" fill="none" stroke="#0a0a0a" stroke-width="1.05" stroke-linejoin="miter"/>
<line x1="175.2" y1="144.3" x2="178.4" y2="144.3" stroke="#0a0a0a" stroke-width="1.15"/>
<text x="171.4" y="147" font-size="7.7" text-anchor="end" font-weight="normal" >0</text>
<line x1="175.2" y1="138.8" x2="178.4" y2="138.8" stroke="#0a0a0a" stroke-width="1.15"/>
<text x="171.4" y="141.5" font-size="7.7" text-anchor="end" font-weight="normal" >500</text>
<line x1="175.2" y1="122.3" x2="178.4" y2="122.3" stroke="#0a0a0a" stroke-width="1.15"/>
<text x="171.4" y="125" font-size="7.7" text-anchor="end" font-weight="normal" >2000</text>
<line x1="175.2" y1="100.3" x2="178.4" y2="100.3" stroke="#0a0a0a" stroke-width="1.15"/>
<text x="171.4" y="103" font-size="7.7" text-anchor="end" font-weight="normal" >4000</text>
<line x1="175.2" y1="78.3" x2="178.4" y2="78.3" stroke="#0a0a0a" stroke-width="1.15"/>
<text x="171.4" y="81" font-size="7.7" text-anchor="end" font-weight="normal" >6000</text>
<line x1="196.5" y1="149.5" x2="196.5" y2="152.7" stroke="#0a0a0a" stroke-width="1.15"/>
<text x="196.5" y="162.5" font-size="7.7" text-anchor="middle" font-weight="normal" >&#8722;1</text>
<line x1="226.8" y1="149.5" x2="226.8" y2="152.7" stroke="#0a0a0a" stroke-width="1.15"/>
<text x="226.8" y="162.5" font-size="7.7" text-anchor="middle" font-weight="normal" >0</text>
<line x1="257.1" y1="149.5" x2="257.1" y2="152.7" stroke="#0a0a0a" stroke-width="1.15"/>
<text x="257.1" y="162.5" font-size="7.7" text-anchor="middle" font-weight="normal" >1</text>
<line x1="287.4" y1="149.5" x2="287.4" y2="152.7" stroke="#0a0a0a" stroke-width="1.15"/>
<text x="287.4" y="162.5" font-size="7.7" text-anchor="middle" font-weight="normal" >2</text>
<line x1="317.7" y1="149.5" x2="317.7" y2="152.7" stroke="#0a0a0a" stroke-width="1.15"/>
<text x="317.7" y="162.5" font-size="7.7" text-anchor="middle" font-weight="normal" >3</text>
<line x1="348" y1="149.5" x2="348" y2="152.7" stroke="#0a0a0a" stroke-width="1.15"/>
<text x="348" y="162.5" font-size="7.7" text-anchor="middle" font-weight="normal" >4</text>
<text x="0" y="176.7" font-size="9.8" stroke="#222" stroke-width="0.35" text-anchor="middle" transform="translate(273,0) scale(0.70,1) translate(0,0)" fill="#222">Weeks from CAR T-cell infusion</text>
<text x="0" y="0" font-size="9.8" stroke="#222" stroke-width="0.35" text-anchor="middle" transform="translate(147.3,92.5) rotate(-90) scale(0.756,1)" fill="#222">ANC (/ &#181;L)</text>
<rect x="306.3" y="49.5" width="6.6" height="6.3" fill="#25a2e0" stroke="#16699c" stroke-width="0.6"/>
<rect x="306.3" y="61.4" width="6.6" height="6.3" fill="#10538c" stroke="#0a3a62" stroke-width="0.6"/>
<text x="316.7" y="54.9" font-size="7.3" text-anchor="start" font-weight="normal" >Low (0-1)</text>
<text x="316.7" y="66.8" font-size="7.3" text-anchor="start" font-weight="normal" >High (2-7)</text>
<text x="0" y="0" font-size="13.8" font-weight="bold" fill="#000" stroke="#000" stroke-width="0.5" transform="translate(8.5,209) scale(0.86,1)">B</text>
<text x="147.5" y="207.9" font-size="9.6" text-anchor="middle" font-weight="normal" >ANC over time by risk of PSN</text>
<text x="148.8" y="219.6" font-size="9.6" text-anchor="middle" font-weight="normal" >Pre-infusion 2 point model</text>
<path d="M60,230.8 60.3,230.8 60.6,231 60.8,231.3 60.9,231.6 60.9,232.2 60.9,232.8 60.9,233.4 60.9,234 60.9,234.6 60.9,235.2 60.9,235.8 60.9,236.4 60.9,237 60.9,237.6 60.9,238.2 60.9,238.8 60.9,239.4 60.9,240 60.9,240.6 60.9,241.2 60.9,241.8 60.9,242.4 60.9,243 60.9,243.6 60.9,244.2 60.9,244.8 60.9,245.4 60.9,246 60.9,246.6 60.9,247.2 60.9,247.8 60.9,248.4 60.9,249 60.9,249.6 60.9,250.2 60.9,250.8 60.9,251.4 60.9,252 60.9,252.6 60.9,253.2 60.9,253.8 60.9,254.4 60.9,255 60.9,255.6 60.9,256.2 60.9,256.8 60.9,257.4 60.9,258 60.9,258.6 60.9,259.2 60.9,259.8 60.9,260.4 60.9,261 60.9,261.6 60.9,262.2 60.9,262.8 60.9,263.4 60.9,264 60.9,264.6 60.9,265.2 60.9,265.8 60.9,266.4 60.9,267 60.9,267.6 60.9,268.2 60.9,268.8 60.9,269.4 60.9,270 60.9,270.6 60.9,271.2 60.9,271.8 60.9,272.4 60.9,273 60.9,273.6 60.9,274.2 60.9,274.8 60.9,275.4 60.9,276 60.9,276.6 60.9,277.2 60.9,277.8 60.9,278.4 60.9,279 60.9,279.6 60.9,280.2 60.9,280.8 60.9,281.4 61,282 61,282.6 61,283.2 61,283.8 61,284.4 61,285 61,285.6 61,286.2 61,286.8 61,287.4 61,288 61,288.6 61,289.2 61,289.8 61,290.4 61,291 61.1,291.6 61.1,292.2 61.2,292.8 61.3,293.4 61.4,294 61.5,294.6 61.6,295.2 61.7,295.8 61.9,296.4 62,297 62.1,297.6 62.2,298.2 62.3,298.8 62.5,299.4 62.6,300 62.7,300.6 62.8,301.2 62.9,301.8 63,302.4 63.1,303 63.2,303.6 63.3,304.2 63.4,304.8 63.5,305.4 63.6,306 63.6,306.6 63.7,307.2 63.8,307.8 63.9,308.4 63.9,309 64,309.6 64,310.2 64.1,310.8 64.1,311.4 64.1,312 64.1,312.6 64.2,313.2 64.2,313.8 64.2,314.4 64.3,315 64.3,315.6 64.3,316.2 64.3,316.8 64.4,317.4 64.4,318 64.4,318.6 64.4,319.2 64.5,319.8 64.5,320.4 64.5,321 64.6,321.6 64.6,322.2 64.7,322.8 64.7,323.4 64.8,324 64.9,324.6 65,325.2 65.2,325.8 65.3,326.4 65.4,327 65.5,327.6 65.7,328.2 65.8,328.8 66,329.4 66.3,330 66.6,330.6 66.9,331.2 67.3,331.8 67.8,332.4 68.4,333 68.7,333.6 68.9,334.2 69,334.8 69,335.4 69,336 69,336.6 69,337.2 69,337.8 69,338.4 69,339 69,339.4 50,339.4 50,339 50,338.4 50,337.8 50,337.2 50,336.6 50,336 50,335.4 50,334.8 50.1,334.2 50.3,333.6 50.6,333 51.2,332.4 51.7,331.8 52.1,331.2 52.4,330.6 52.7,330 53,329.4 53.2,328.8 53.3,328.2 53.5,327.6 53.6,327 53.7,326.4 53.8,325.8 54,325.2 54.1,324.6 54.2,324 54.3,323.4 54.3,322.8 54.4,322.2 54.4,321.6 54.5,321 54.5,320.4 54.5,319.8 54.6,319.2 54.6,318.6 54.6,318 54.6,317.4 54.7,316.8 54.7,316.2 54.7,315.6 54.7,315 54.8,314.4 54.8,313.8 54.8,313.2 54.9,312.6 54.9,312 54.9,311.4 54.9,310.8 55,310.2 55,309.6 55.1,309 55.1,308.4 55.2,307.8 55.3,307.2 55.4,306.6 55.4,306 55.5,305.4 55.6,304.8 55.7,304.2 55.8,303.6 55.9,303 56,302.4 56.1,301.8 56.2,301.2 56.3,300.6 56.4,300 56.5,299.4 56.7,298.8 56.8,298.2 56.9,297.6 57,297 57.1,296.4 57.3,295.8 57.4,295.2 57.5,294.6 57.6,294 57.7,293.4 57.8,292.8 57.9,292.2 57.9,291.6 58,291 58,290.4 58,289.8 58,289.2 58,288.6 58,288 58,287.4 58,286.8 58,286.2 58,285.6 58,285 58,284.4 58,283.8 58,283.2 58,282.6 58,282 58.1,281.4 58.1,280.8 58.1,280.2 58.1,279.6 58.1,279 58.1,278.4 58.1,277.8 58.1,277.2 58.1,276.6 58.1,276 58.1,275.4 58.1,274.8 58.1,274.2 58.1,273.6 58.1,273 58.1,272.4 58.1,271.8 58.1,271.2 58.1,270.6 58.1,270 58.1,269.4 58.1,268.8 58.1,268.2 58.1,267.6 58.1,267 58.1,266.4 58.1,265.8 58.1,265.2 58.1,264.6 58.1,264 58.1,263.4 58.1,262.8 58.1,262.2 58.1,261.6 58.1,261 58.1,260.4 58.1,259.8 58.1,259.2 58.1,258.6 58.1,258 58.1,257.4 58.1,256.8 58.1,256.2 58.1,255.6 58.1,255 58.1,254.4 58.1,253.8 58.1,253.2 58.1,252.6 58.1,252 58.1,251.4 58.1,250.8 58.1,250.2 58.1,249.6 58.1,249 58.1,248.4 58.1,247.8 58.1,247.2 58.1,246.6 58.1,246 58.1,245.4 58.1,244.8 58.1,244.2 58.1,243.6 58.1,243 58.1,242.4 58.1,241.8 58.1,241.2 58.1,240.6 58.1,240 58.1,239.4 58.1,238.8 58.1,238.2 58.1,237.6 58.1,237 58.1,236.4 58.1,235.8 58.1,235.2 58.1,234.6 58.1,234 58.1,233.4 58.1,232.8 58.1,232.2 58.1,231.6 58.2,231.3 58.4,231 58.7,230.8 59,230.8Z" fill="#25a2e0" stroke="#16699c" stroke-width="0.7" stroke-linejoin="round"/>
<path d="M75.3,289.2 75.6,289.3 75.9,289.5 76.1,289.8 76.2,290.1 76.2,290.7 76.2,291.3 76.2,291.9 76.2,292.5 76.2,293.1 76.2,293.7 76.2,294.3 76.2,294.9 76.2,295.5 76.2,296.1 76.2,296.7 76.2,297.3 76.2,297.9 76.2,298.5 76.2,299.1 76.2,299.7 76.2,300.3 76.2,300.9 76.3,301.5 76.5,302.1 76.6,302.7 76.8,303.3 77,303.9 77.1,304.5 77.3,305.1 77.4,305.7 77.5,306.3 77.5,306.9 77.5,307.5 77.5,308.1 77.4,308.7 77.3,309.3 77.3,309.9 77.2,310.5 77.1,311.1 77,311.7 76.9,312.3 76.8,312.9 76.8,313.5 76.7,314.1 76.7,314.7 76.7,315.3 76.7,315.9 76.7,316.5 76.7,317.1 76.7,317.7 76.7,318.3 76.7,318.9 76.7,319.5 76.7,320.1 76.7,320.7 76.7,321.3 76.8,321.9 76.8,322.5 76.9,323.1 76.9,323.7 77,324.3 77.1,324.9 77.2,325.5 77.3,326.1 77.4,326.7 77.5,327.3 77.7,327.9 77.9,328.5 78.1,329.1 78.3,329.7 78.6,330.3 78.9,330.9 79.3,331.5 79.8,332.1 80.5,332.7 81.4,333.3 82,333.9 82.4,334.5 82.8,335.1 83,335.7 83.2,336.3 83.2,336.9 83.2,337.5 83.2,338.1 83.2,338.7 83.2,339.3 83.2,339.3 65.8,339.3 65.8,339.3 65.8,338.7 65.8,338.1 65.8,337.5 65.8,336.9 65.8,336.3 66,335.7 66.2,335.1 66.6,334.5 67,333.9 67.6,333.3 68.5,332.7 69.2,332.1 69.7,331.5 70.1,330.9 70.4,330.3 70.7,329.7 70.9,329.1 71.1,328.5 71.3,327.9 71.5,327.3 71.6,326.7 71.7,326.1 71.8,325.5 71.9,324.9 72,324.3 72.1,323.7 72.1,323.1 72.2,322.5 72.2,321.9 72.3,321.3 72.3,320.7 72.3,320.1 72.3,319.5 72.3,318.9 72.3,318.3 72.3,317.7 72.3,317.1 72.3,316.5 72.3,315.9 72.3,315.3 72.3,314.7 72.3,314.1 72.2,313.5 72.2,312.9 72.1,312.3 72,311.7 71.9,311.1 71.8,310.5 71.7,309.9 71.7,309.3 71.6,308.7 71.5,308.1 71.5,307.5 71.5,306.9 71.5,306.3 71.6,305.7 71.7,305.1 71.9,304.5 72,303.9 72.2,303.3 72.4,302.7 72.5,302.1 72.7,301.5 72.8,300.9 72.8,300.3 72.8,299.7 72.8,299.1 72.8,298.5 72.8,297.9 72.8,297.3 72.8,296.7 72.8,296.1 72.8,295.5 72.8,294.9 72.8,294.3 72.8,293.7 72.8,293.1 72.8,292.5 72.8,291.9 72.8,291.3 72.8,290.7 72.8,290.1 72.9,289.8 73.1,289.5 73.4,289.3 73.7,289.2Z" fill="#10538c" stroke="#0a3a62" stroke-width="0.7" stroke-linejoin="round"/>
<path d="M93,307.2 93.3,307.3 93.6,307.5 93.8,307.8 93.9,308.1 93.8,308.7 93.8,309.3 93.8,309.9 93.8,310.5 93.8,311.1 93.8,311.7 93.8,312.3 93.8,312.9 93.8,313.5 93.9,314.1 93.9,314.7 93.9,315.3 94,315.9 94.1,316.5 94.3,317.1 94.5,317.7 94.7,318.3 94.9,318.9 95,319.5 95.2,320.1 95.4,320.7 95.5,321.3 95.6,321.9 95.7,322.5 95.7,323.1 95.6,323.7 95.5,324.3 95.3,324.9 95.2,325.5 95,326.1 94.8,326.7 94.7,327.3 94.7,327.9 94.9,328.5 95.2,329.1 95.5,329.7 95.8,330.3 96.2,330.9 96.6,331.5 97.1,332.1 97.7,332.7 98.2,333.3 98.7,333.9 99.3,334.5 99.7,335.1 100,335.7 100.3,336.3 100.3,336.9 100.3,337.5 100.3,338.1 100.3,338.7 100.3,339.3 100.3,339.3 84.5,339.3 84.5,339.3 84.5,338.7 84.5,338.1 84.5,337.5 84.5,336.9 84.5,336.3 84.8,335.7 85.1,335.1 85.5,334.5 86.1,333.9 86.6,333.3 87.1,332.7 87.7,332.1 88.2,331.5 88.6,330.9 89,330.3 89.3,329.7 89.6,329.1 89.9,328.5 90.1,327.9 90.1,327.3 90,326.7 89.8,326.1 89.6,325.5 89.5,324.9 89.3,324.3 89.2,323.7 89.1,323.1 89.1,322.5 89.2,321.9 89.3,321.3 89.4,320.7 89.6,320.1 89.8,319.5 89.9,318.9 90.1,318.3 90.3,317.7 90.5,317.1 90.7,316.5 90.8,315.9 90.9,315.3 90.9,314.7 90.9,314.1 91,313.5 91,312.9 91,312.3 91,311.7 91,311.1 91,310.5 91,309.9 91,309.3 91,308.7 90.9,308.1 91,307.8 91.2,307.5 91.5,307.3 91.8,307.2Z" fill="#25a2e0" stroke="#16699c" stroke-width="0.7" stroke-linejoin="round"/>
<path d="M107.8,296.2 108.1,296.3 108.4,296.5 108.6,296.8 108.7,297.1 108.7,297.7 108.7,298.3 108.7,298.9 108.6,299.5 108.6,300.1 108.6,300.7 108.6,301.3 108.6,301.9 108.6,302.5 108.6,303.1 108.6,303.7 108.6,304.3 108.6,304.9 108.6,305.5 108.6,306.1 108.6,306.7 108.6,307.3 108.6,307.9 108.6,308.5 108.6,309.1 108.6,309.7 108.6,310.3 108.6,310.9 108.7,311.5 109.1,312.1 109.3,312.7 109.1,313.3 108.7,313.9 108.6,314.5 108.6,315.1 108.6,315.7 108.6,316.3 108.6,316.9 108.6,317.5 108.6,318.1 108.6,318.7 108.6,319.3 108.7,319.9 109,320.5 109.3,321.1 109.2,321.7 108.8,322.3 108.6,322.9 108.6,323.5 108.6,324.1 108.6,324.7 108.6,325.3 108.6,325.9 108.6,326.5 108.9,327.1 109.2,327.7 109.3,328.3 109,328.9 108.7,329.5 108.7,330.1 108.7,330.7 108.8,331.3 108.9,331.9 109.2,332.5 109.9,333.1 110.7,333.7 111.6,334.3 112.5,334.9 113.5,335.5 114.4,336.1 115.1,336.7 115.6,337.3 115.8,337.9 115.8,338.5 115.8,339.1 115.8,339.3 98.6,339.3 98.6,339.1 98.6,338.5 98.6,337.9 98.8,337.3 99.3,336.7 100,336.1 100.9,335.5 101.9,334.9 102.8,334.3 103.7,333.7 104.5,333.1 105.2,332.5 105.5,331.9 105.6,331.3 105.7,330.7 105.7,330.1 105.7,329.5 105.4,328.9 105.1,328.3 105.2,327.7 105.5,327.1 105.8,326.5 105.8,325.9 105.8,325.3 105.8,324.7 105.8,324.1 105.8,323.5 105.8,322.9 105.6,322.3 105.2,321.7 105.1,321.1 105.4,320.5 105.7,319.9 105.8,319.3 105.8,318.7 105.8,318.1 105.8,317.5 105.8,316.9 105.8,316.3 105.8,315.7 105.8,315.1 105.8,314.5 105.7,313.9 105.3,313.3 105.1,312.7 105.3,312.1 105.7,311.5 105.8,310.9 105.8,310.3 105.8,309.7 105.8,309.1 105.8,308.5 105.8,307.9 105.8,307.3 105.8,306.7 105.8,306.1 105.8,305.5 105.8,304.9 105.8,304.3 105.8,303.7 105.8,303.1 105.8,302.5 105.8,301.9 105.8,301.3 105.8,300.7 105.8,300.1 105.8,299.5 105.7,298.9 105.7,298.3 105.7,297.7 105.7,297.1 105.8,296.8 106,296.5 106.3,296.3 106.6,296.2Z" fill="#10538c" stroke="#0a3a62" stroke-width="0.7" stroke-linejoin="round"/>
<path d="M125.6,294.2 125.9,294.3 126.2,294.4 126.3,294.7 126.4,295 126.4,295.6 126.4,296.2 126.4,296.8 126.4,297.4 126.4,298 126.4,298.6 126.4,299.2 126.4,299.8 126.4,300.4 126.4,301 126.4,301.6 126.4,302.2 126.4,302.8 126.4,303.4 126.4,304 126.4,304.6 126.4,305.2 126.4,305.8 126.4,306.4 126.4,307 126.4,307.6 126.4,308.2 126.4,308.8 126.4,309.4 126.4,310 126.4,310.6 126.4,311.2 126.4,311.8 126.4,312.4 126.4,313 126.4,313.6 126.4,314.2 126.4,314.8 126.4,315.4 126.4,316 126.4,316.6 126.5,317.2 126.5,317.8 126.5,318.4 126.5,319 126.5,319.6 126.5,320.2 126.5,320.8 126.5,321.4 126.5,322 126.5,322.6 126.5,323.2 126.5,323.8 126.6,324.4 126.8,325 127,325.6 127.3,326.2 127.5,326.8 127.7,327.4 127.8,328 128,328.6 128.1,329.2 128.2,329.8 128.1,330.4 127.8,331 127.6,331.6 127.8,332.2 128.7,332.8 130.1,333.4 131.5,334 132.4,334.6 133.1,335.2 133.7,335.8 134,336.4 134,337 134,337.6 134,338.2 134,338.8 134,339.3 116,339.3 116,338.8 116,338.2 116,337.6 116,337 116,336.4 116.3,335.8 116.9,335.2 117.6,334.6 118.5,334 119.9,333.4 121.3,332.8 122.2,332.2 122.4,331.6 122.2,331 121.9,330.4 121.8,329.8 121.9,329.2 122,328.6 122.2,328 122.3,327.4 122.5,326.8 122.7,326.2 123,325.6 123.2,325 123.4,324.4 123.5,323.8 123.5,323.2 123.5,322.6 123.5,322 123.5,321.4 123.5,320.8 123.5,320.2 123.5,319.6 123.5,319 123.5,318.4 123.5,317.8 123.5,317.2 123.6,316.6 123.6,316 123.6,315.4 123.6,314.8 123.6,314.2 123.6,313.6 123.6,313 123.6,312.4 123.6,311.8 123.6,311.2 123.6,310.6 123.6,310 123.6,309.4 123.6,308.8 123.6,308.2 123.6,307.6 123.6,307 123.6,306.4 123.6,305.8 123.6,305.2 123.6,304.6 123.6,304 123.6,303.4 123.6,302.8 123.6,302.2 123.6,301.6 123.6,301 123.6,300.4 123.6,299.8 123.6,299.2 123.6,298.6 123.6,298 123.6,297.4 123.6,296.8 123.6,296.2 123.6,295.6 123.6,295 123.7,294.7 123.8,294.4 124.1,294.3 124.4,294.2Z" fill="#25a2e0" stroke="#16699c" stroke-width="0.7" stroke-linejoin="round"/>
<path d="M140.8,311 141.1,311.1 141.4,311.3 141.6,311.6 141.7,311.9 141.7,312.5 141.7,313.1 141.7,313.7 141.7,314.3 141.7,314.9 141.7,315.5 141.7,316.1 141.7,316.7 141.7,317.3 141.7,317.9 141.7,318.5 141.7,319.1 141.7,319.7 141.7,320.3 141.7,320.9 141.7,321.5 141.7,322.1 141.7,322.7 141.7,323.3 141.7,323.9 141.7,324.5 141.7,325.1 141.7,325.7 141.7,326.3 141.7,326.9 141.7,327.5 141.7,328.1 141.7,328.7 141.7,329.3 141.7,329.9 141.7,330.5 141.7,331.1 141.7,331.7 141.7,332.3 141.7,332.9 141.7,333.5 142.3,334.1 143.2,334.7 144.2,335.3 145.1,335.9 145.7,336.5 146.3,337.1 146.9,337.7 147.4,338.3 147.9,338.9 148.2,339.3 132.2,339.3 132.5,338.9 133,338.3 133.5,337.7 134.1,337.1 134.7,336.5 135.3,335.9 136.2,335.3 137.2,334.7 138.1,334.1 138.7,333.5 138.7,332.9 138.7,332.3 138.7,331.7 138.7,331.1 138.7,330.5 138.7,329.9 138.7,329.3 138.7,328.7 138.7,328.1 138.7,327.5 138.7,326.9 138.7,326.3 138.7,325.7 138.7,325.1 138.7,324.5 138.7,323.9 138.7,323.3 138.7,322.7 138.7,322.1 138.7,321.5 138.7,320.9 138.7,320.3 138.7,319.7 138.7,319.1 138.7,318.5 138.7,317.9 138.7,317.3 138.7,316.7 138.7,316.1 138.7,315.5 138.7,314.9 138.7,314.3 138.7,313.7 138.7,313.1 138.7,312.5 138.7,311.9 138.8,311.6 139,311.3 139.3,311.1 139.6,311Z" fill="#10538c" stroke="#0a3a62" stroke-width="0.7" stroke-linejoin="round"/>
<path d="M158.8,308.4 159.1,308.5 159.4,308.7 159.6,309 159.7,309.3 159.7,309.9 159.7,310.5 159.7,311.1 159.7,311.7 159.7,312.3 159.7,312.9 159.7,313.5 159.7,314.1 159.8,314.7 159.8,315.3 159.8,315.9 159.8,316.5 159.8,317.1 159.8,317.7 159.8,318.3 159.9,318.9 159.9,319.5 159.9,320.1 160.1,320.7 160.3,321.3 160.6,321.9 160.9,322.5 161.2,323.1 161.5,323.7 161.6,324.3 161.8,324.9 161.9,325.5 162.1,326.1 162.2,326.7 162.3,327.3 162.4,327.9 162.6,328.5 162.8,329.1 163,329.7 163.2,330.3 163.5,330.9 163.9,331.5 164.2,332.1 164.5,332.7 164.8,333.3 165.1,333.9 165.5,334.5 165.8,335.1 166.1,335.7 166.3,336.3 166.3,336.9 166.3,337.5 166.3,338.1 166.3,338.7 166.3,339.3 166.3,339.3 149.9,339.3 149.9,339.3 149.9,338.7 149.9,338.1 149.9,337.5 149.9,336.9 149.9,336.3 150.1,335.7 150.4,335.1 150.7,334.5 151.1,333.9 151.4,333.3 151.7,332.7 152,332.1 152.3,331.5 152.7,330.9 153,330.3 153.2,329.7 153.4,329.1 153.6,328.5 153.8,327.9 153.9,327.3 154,326.7 154.1,326.1 154.3,325.5 154.4,324.9 154.6,324.3 154.7,323.7 155,323.1 155.3,322.5 155.6,321.9 155.9,321.3 156.1,320.7 156.3,320.1 156.3,319.5 156.3,318.9 156.4,318.3 156.4,317.7 156.4,317.1 156.4,316.5 156.4,315.9 156.4,315.3 156.4,314.7 156.5,314.1 156.5,313.5 156.5,312.9 156.5,312.3 156.5,311.7 156.5,311.1 156.5,310.5 156.5,309.9 156.5,309.3 156.6,309 156.8,308.7 157.1,308.5 157.4,308.4Z" fill="#25a2e0" stroke="#16699c" stroke-width="0.7" stroke-linejoin="round"/>
<path d="M173.7,274.3 174,274.4 174.3,274.6 174.5,274.9 174.6,275.2 174.6,275.8 174.6,276.4 174.6,277 174.6,277.6 174.6,278.2 174.6,278.8 174.6,279.4 174.6,280 174.6,280.6 174.6,281.2 174.6,281.8 174.6,282.4 174.6,283 174.6,283.6 174.6,284.2 174.6,284.8 174.6,285.4 174.6,286 174.6,286.6 174.6,287.2 174.6,287.8 174.6,288.4 174.6,289 174.6,289.6 174.6,290.2 174.6,290.8 174.6,291.4 174.6,292 174.6,292.6 174.6,293.2 174.6,293.8 174.6,294.4 174.6,295 174.6,295.6 174.6,296.2 174.6,296.8 174.6,297.4 174.6,298 174.6,298.6 174.6,299.2 174.6,299.8 174.6,300.4 174.6,301 174.6,301.6 174.6,302.2 174.6,302.8 174.6,303.4 174.6,304 174.6,304.6 174.6,305.2 174.6,305.8 174.6,306.4 174.6,307 174.6,307.6 174.6,308.2 174.6,308.8 174.6,309.4 174.6,310 174.6,310.6 174.6,311.2 174.6,311.8 174.7,312.4 174.7,313 174.7,313.6 174.7,314.2 174.7,314.8 174.7,315.4 174.7,316 174.7,316.6 174.7,317.2 174.7,317.8 174.7,318.4 174.7,319 174.7,319.6 174.7,320.2 174.7,320.8 174.7,321.4 174.7,322 174.7,322.6 174.7,323.2 174.7,323.8 174.7,324.4 174.8,325 174.8,325.6 174.9,326.2 175,326.8 175.1,327.4 175.2,328 175.4,328.6 175.5,329.2 175.7,329.8 175.9,330.4 176.1,331 176.4,331.6 176.8,332.2 177.2,332.8 177.6,333.4 178.2,334 179.1,334.6 179.9,335.2 180.4,335.8 180.6,336.4 180.8,337 180.9,337.6 181,338.2 181.1,338.8 181.1,339.3 165.1,339.3 165.1,338.8 165.2,338.2 165.3,337.6 165.4,337 165.6,336.4 165.8,335.8 166.3,335.2 167.1,334.6 168,334 168.6,333.4 169,332.8 169.4,332.2 169.8,331.6 170.1,331 170.3,330.4 170.5,329.8 170.7,329.2 170.8,328.6 171,328 171.1,327.4 171.2,326.8 171.3,326.2 171.4,325.6 171.4,325 171.5,324.4 171.5,323.8 171.5,323.2 171.5,322.6 171.5,322 171.5,321.4 171.5,320.8 171.5,320.2 171.5,319.6 171.5,319 171.5,318.4 171.5,317.8 171.5,317.2 171.5,316.6 171.5,316 171.5,315.4 171.5,314.8 171.5,314.2 171.5,313.6 171.5,313 171.5,312.4 171.6,311.8 171.6,311.2 171.6,310.6 171.6,310 171.6,309.4 171.6,308.8 171.6,308.2 171.6,307.6 171.6,307 171.6,306.4 171.6,305.8 171.6,305.2 171.6,304.6 171.6,304 171.6,303.4 171.6,302.8 171.6,302.2 171.6,301.6 171.6,301 171.6,300.4 171.6,299.8 171.6,299.2 171.6,298.6 171.6,298 171.6,297.4 171.6,296.8 171.6,296.2 171.6,295.6 171.6,295 171.6,294.4 171.6,293.8 171.6,293.2 171.6,292.6 171.6,292 171.6,291.4 171.6,290.8 171.6,290.2 171.6,289.6 171.6,289 171.6,288.4 171.6,287.8 171.6,287.2 171.6,286.6 171.6,286 171.6,285.4 171.6,284.8 171.6,284.2 171.6,283.6 171.6,283 171.6,282.4 171.6,281.8 171.6,281.2 171.6,280.6 171.6,280 171.6,279.4 171.6,278.8 171.6,278.2 171.6,277.6 171.6,277 171.6,276.4 171.6,275.8 171.6,275.2 171.7,274.9 171.9,274.6 172.2,274.4 172.5,274.3Z" fill="#10538c" stroke="#0a3a62" stroke-width="0.7" stroke-linejoin="round"/>
<path d="M191.9,272.1 192.2,272.2 192.5,272.4 192.7,272.7 192.8,273 192.8,273.6 192.8,274.2 192.8,274.8 192.8,275.4 192.8,276 192.8,276.6 192.8,277.2 192.8,277.8 192.8,278.4 192.8,279 192.8,279.6 192.8,280.2 192.8,280.8 192.8,281.4 192.8,282 192.8,282.6 192.8,283.2 192.8,283.8 192.8,284.4 192.8,285 192.8,285.6 192.8,286.2 192.8,286.8 192.8,287.4 192.8,288 192.8,288.6 192.8,289.2 192.8,289.8 192.9,290.4 192.9,291 192.9,291.6 192.9,292.2 192.9,292.8 192.9,293.4 192.9,294 192.9,294.6 192.9,295.2 192.9,295.8 192.9,296.4 192.9,297 192.9,297.6 192.9,298.2 192.9,298.8 192.9,299.4 192.9,300 192.9,300.6 193,301.2 193,301.8 193,302.4 193,303 193,303.6 193,304.2 193,304.8 193,305.4 193,306 193,306.6 193,307.2 193.1,307.8 193.1,308.4 193.1,309 193.1,309.6 193.1,310.2 193.1,310.8 193.2,311.4 193.3,312 193.4,312.6 193.5,313.2 193.6,313.8 193.7,314.4 193.9,315 194.1,315.6 194.4,316.2 194.6,316.8 194.9,317.4 195.1,318 195.4,318.6 195.6,319.2 195.7,319.8 195.9,320.4 196,321 196.1,321.6 196.2,322.2 196.3,322.8 196.4,323.4 196.4,324 196.5,324.6 196.6,325.2 196.7,325.8 196.7,326.4 196.8,327 196.8,327.6 196.8,328.2 196.9,328.8 196.9,329.4 197,330 197.1,330.6 197.3,331.2 197.6,331.8 197.9,332.4 198.3,333 198.6,333.6 199,334.2 199.3,334.8 199.6,335.4 199.8,336 199.8,336.6 199.8,337.2 199.8,337.8 199.8,338.4 199.8,339 199.8,339.4 182.8,339.4 182.8,339 182.8,338.4 182.8,337.8 182.8,337.2 182.8,336.6 182.8,336 183,335.4 183.3,334.8 183.6,334.2 184,333.6 184.3,333 184.7,332.4 185,331.8 185.3,331.2 185.5,330.6 185.6,330 185.7,329.4 185.7,328.8 185.8,328.2 185.8,327.6 185.8,327 185.9,326.4 185.9,325.8 186,325.2 186.1,324.6 186.2,324 186.2,323.4 186.3,322.8 186.4,322.2 186.5,321.6 186.6,321 186.7,320.4 186.9,319.8 187,319.2 187.2,318.6 187.5,318 187.7,317.4 188,316.8 188.2,316.2 188.5,315.6 188.7,315 188.9,314.4 189,313.8 189.1,313.2 189.2,312.6 189.3,312 189.4,311.4 189.5,310.8 189.5,310.2 189.5,309.6 189.5,309 189.5,308.4 189.5,307.8 189.6,307.2 189.6,306.6 189.6,306 189.6,305.4 189.6,304.8 189.6,304.2 189.6,303.6 189.6,303 189.6,302.4 189.6,301.8 189.6,301.2 189.7,300.6 189.7,300 189.7,299.4 189.7,298.8 189.7,298.2 189.7,297.6 189.7,297 189.7,296.4 189.7,295.8 189.7,295.2 189.7,294.6 189.7,294 189.7,293.4 189.7,292.8 189.7,292.2 189.7,291.6 189.7,291 189.7,290.4 189.8,289.8 189.8,289.2 189.8,288.6 189.8,288 189.8,287.4 189.8,286.8 189.8,286.2 189.8,285.6 189.8,285 189.8,284.4 189.8,283.8 189.8,283.2 189.8,282.6 189.8,282 189.8,281.4 189.8,280.8 189.8,280.2 189.8,279.6 189.8,279 189.8,278.4 189.8,277.8 189.8,277.2 189.8,276.6 189.8,276 189.8,275.4 189.8,274.8 189.8,274.2 189.8,273.6 189.8,273 189.9,272.7 190.1,272.4 190.4,272.2 190.7,272.1Z" fill="#25a2e0" stroke="#16699c" stroke-width="0.7" stroke-linejoin="round"/>
<path d="M206.6,282.1 206.9,282.2 207.2,282.4 207.4,282.7 207.5,283 207.5,283.6 207.5,284.2 207.5,284.8 207.5,285.4 207.5,286 207.5,286.6 207.5,287.2 207.5,287.8 207.5,288.4 207.5,289 207.5,289.6 207.5,290.2 207.5,290.8 207.5,291.4 207.5,292 207.5,292.6 207.5,293.2 207.5,293.8 207.5,294.4 207.5,295 207.5,295.6 207.5,296.2 207.5,296.8 207.5,297.4 207.5,298 207.5,298.6 207.5,299.2 207.5,299.8 207.5,300.4 207.5,301 207.5,301.6 207.5,302.2 207.5,302.8 207.5,303.4 207.5,304 207.5,304.6 207.5,305.2 207.5,305.8 207.5,306.4 207.5,307 207.5,307.6 207.5,308.2 207.5,308.8 207.5,309.4 207.5,310 207.5,310.6 207.5,311.2 207.5,311.8 207.5,312.4 207.5,313 207.6,313.6 207.6,314.2 207.6,314.8 207.6,315.4 207.6,316 207.6,316.6 207.6,317.2 207.6,317.8 207.6,318.4 207.6,319 207.6,319.6 207.6,320.2 207.6,320.8 207.6,321.4 207.6,322 207.6,322.6 207.7,323.2 207.9,323.8 208.1,324.4 208.2,325 208.2,325.6 208.3,326.2 208.3,326.8 208.3,327.4 208.3,328 208.3,328.6 208.3,329.2 208.3,329.8 208.4,330.4 208.5,331 208.8,331.6 209.3,332.2 209.9,332.8 210.4,333.4 211,334 211.8,334.6 212.5,335.2 213,335.8 213.3,336.4 213.5,337 213.7,337.6 213.9,338.2 214,338.8 214,339.4 198,339.4 198,338.8 198.1,338.2 198.3,337.6 198.5,337 198.7,336.4 199,335.8 199.5,335.2 200.2,334.6 201,334 201.6,333.4 202.1,332.8 202.7,332.2 203.2,331.6 203.5,331 203.6,330.4 203.7,329.8 203.7,329.2 203.7,328.6 203.7,328 203.7,327.4 203.7,326.8 203.7,326.2 203.8,325.6 203.8,325 203.9,324.4 204.1,323.8 204.3,323.2 204.4,322.6 204.4,322 204.4,321.4 204.4,320.8 204.4,320.2 204.4,319.6 204.4,319 204.4,318.4 204.4,317.8 204.4,317.2 204.4,316.6 204.4,316 204.4,315.4 204.4,314.8 204.4,314.2 204.4,313.6 204.5,313 204.5,312.4 204.5,311.8 204.5,311.2 204.5,310.6 204.5,310 204.5,309.4 204.5,308.8 204.5,308.2 204.5,307.6 204.5,307 204.5,306.4 204.5,305.8 204.5,305.2 204.5,304.6 204.5,304 204.5,303.4 204.5,302.8 204.5,302.2 204.5,301.6 204.5,301 204.5,300.4 204.5,299.8 204.5,299.2 204.5,298.6 204.5,298 204.5,297.4 204.5,296.8 204.5,296.2 204.5,295.6 204.5,295 204.5,294.4 204.5,293.8 204.5,293.2 204.5,292.6 204.5,292 204.5,291.4 204.5,290.8 204.5,290.2 204.5,289.6 204.5,289 204.5,288.4 204.5,287.8 204.5,287.2 204.5,286.6 204.5,286 204.5,285.4 204.5,284.8 204.5,284.2 204.5,283.6 204.5,283 204.6,282.7 204.8,282.4 205.1,282.2 205.4,282.1Z" fill="#10538c" stroke="#0a3a62" stroke-width="0.7" stroke-linejoin="round"/>
<path d="M224.9,301.6 225.2,301.7 225.5,301.9 225.7,302.2 225.8,302.5 225.7,303.1 225.7,303.7 225.7,304.3 225.7,304.9 225.7,305.5 225.7,306.1 225.7,306.7 225.7,307.3 225.7,307.9 225.7,308.5 225.7,309.1 225.7,309.7 225.8,310.3 225.9,310.9 226,311.5 226.1,312.1 226.3,312.7 226.4,313.3 226.5,313.9 226.7,314.5 226.8,315.1 226.9,315.7 227,316.3 227.1,316.9 227.3,317.5 227.4,318.1 227.5,318.7 227.6,319.3 227.7,319.9 227.8,320.5 227.9,321.1 228,321.7 228.1,322.3 228.1,322.9 228.2,323.5 228.2,324.1 228.3,324.7 228.3,325.3 228.3,325.9 228.4,326.5 228.4,327.1 228.4,327.7 228.5,328.3 228.5,328.9 228.6,329.5 228.8,330.1 229,330.7 229.3,331.3 229.6,331.9 230,332.5 230.3,333.1 230.7,333.7 231.2,334.3 231.7,334.9 232,335.5 232.2,336.1 232.2,336.7 232.2,337.3 232.2,337.9 232.2,338.5 232.2,339.1 232.2,339.4 215.8,339.4 215.8,339.1 215.8,338.5 215.8,337.9 215.8,337.3 215.8,336.7 215.8,336.1 216,335.5 216.3,334.9 216.8,334.3 217.3,333.7 217.7,333.1 218,332.5 218.4,331.9 218.7,331.3 219,330.7 219.2,330.1 219.4,329.5 219.5,328.9 219.5,328.3 219.6,327.7 219.6,327.1 219.6,326.5 219.7,325.9 219.7,325.3 219.7,324.7 219.8,324.1 219.8,323.5 219.9,322.9 219.9,322.3 220,321.7 220.1,321.1 220.2,320.5 220.3,319.9 220.4,319.3 220.5,318.7 220.6,318.1 220.7,317.5 220.9,316.9 221,316.3 221.1,315.7 221.2,315.1 221.3,314.5 221.5,313.9 221.6,313.3 221.7,312.7 221.9,312.1 222,311.5 222.1,310.9 222.2,310.3 222.3,309.7 222.3,309.1 222.3,308.5 222.3,307.9 222.3,307.3 222.3,306.7 222.3,306.1 222.3,305.5 222.3,304.9 222.3,304.3 222.3,303.7 222.3,303.1 222.2,302.5 222.3,302.2 222.5,301.9 222.8,301.7 223.1,301.6Z" fill="#25a2e0" stroke="#16699c" stroke-width="0.7" stroke-linejoin="round"/>
<path d="M240,301.2 240.3,301.3 240.6,301.5 240.8,301.8 240.9,302.1 240.8,302.7 240.7,303.3 240.7,303.9 240.7,304.5 240.7,305.1 240.6,305.7 240.6,306.3 240.6,306.9 240.6,307.5 240.6,308.1 240.6,308.7 240.6,309.3 240.6,309.9 240.6,310.5 240.7,311.1 240.7,311.7 240.8,312.3 240.9,312.9 241,313.5 241.1,314.1 241.2,314.7 241.2,315.3 241.2,315.9 241.2,316.5 241.1,317.1 241.1,317.7 241,318.3 241,318.9 240.9,319.5 240.8,320.1 240.8,320.7 240.7,321.3 240.7,321.9 240.7,322.5 240.7,323.1 240.7,323.7 240.7,324.3 240.7,324.9 240.7,325.5 240.8,326.1 240.8,326.7 240.8,327.3 240.8,327.9 240.9,328.5 240.9,329.1 241,329.7 241.3,330.3 241.7,330.9 242.3,331.5 242.9,332.1 243.5,332.7 244.1,333.3 244.7,333.9 245.5,334.5 246.3,335.1 246.8,335.7 247,336.3 247.1,336.9 247.2,337.5 247.3,338.1 247.3,338.7 247.3,339.3 247.3,339.4 230.9,339.4 230.9,339.3 230.9,338.7 230.9,338.1 231,337.5 231.1,336.9 231.2,336.3 231.4,335.7 231.9,335.1 232.7,334.5 233.5,333.9 234.1,333.3 234.7,332.7 235.3,332.1 235.9,331.5 236.5,330.9 236.9,330.3 237.2,329.7 237.3,329.1 237.3,328.5 237.4,327.9 237.4,327.3 237.4,326.7 237.4,326.1 237.5,325.5 237.5,324.9 237.5,324.3 237.5,323.7 237.5,323.1 237.5,322.5 237.5,321.9 237.5,321.3 237.4,320.7 237.4,320.1 237.3,319.5 237.2,318.9 237.2,318.3 237.1,317.7 237.1,317.1 237,316.5 237,315.9 237,315.3 237,314.7 237.1,314.1 237.2,313.5 237.3,312.9 237.4,312.3 237.5,311.7 237.5,311.1 237.6,310.5 237.6,309.9 237.6,309.3 237.6,308.7 237.6,308.1 237.6,307.5 237.6,306.9 237.6,306.3 237.6,305.7 237.5,305.1 237.5,304.5 237.5,303.9 237.5,303.3 237.4,302.7 237.3,302.1 237.4,301.8 237.6,301.5 237.9,301.3 238.2,301.2Z" fill="#10538c" stroke="#0a3a62" stroke-width="0.7" stroke-linejoin="round"/>
<line x1="47.5" y1="332.6" x2="256" y2="332.6" stroke="#f2c266" stroke-width="1.2" stroke-opacity="0.8"/>
<path d="M47.5,226.3 V343.5 H250" fill="none" stroke="#0a0a0a" stroke-width="1.05" stroke-linejoin="miter"/>
<line x1="44.3" y1="338.2" x2="47.5" y2="338.2" stroke="#0a0a0a" stroke-width="1.15"/>
<text x="40.5" y="340.9" font-size="7.7" text-anchor="end" font-weight="normal" >0</text>
<line x1="44.3" y1="332.6" x2="47.5" y2="332.6" stroke="#0a0a0a" stroke-width="1.15"/>
<text x="40.5" y="335.3" font-size="7.7" text-anchor="end" font-weight="normal" >500</text>
<line x1="44.3" y1="315.7" x2="47.5" y2="315.7" stroke="#0a0a0a" stroke-width="1.15"/>
<text x="40.5" y="318.4" font-size="7.7" text-anchor="end" font-weight="normal" >2000</text>
<line x1="44.3" y1="293.1" x2="47.5" y2="293.1" stroke="#0a0a0a" stroke-width="1.15"/>
<text x="40.5" y="295.8" font-size="7.7" text-anchor="end" font-weight="normal" >4000</text>
<line x1="44.3" y1="270.5" x2="47.5" y2="270.5" stroke="#0a0a0a" stroke-width="1.15"/>
<text x="40.5" y="273.2" font-size="7.7" text-anchor="end" font-weight="normal" >6000</text>
<line x1="66.2" y1="343.5" x2="66.2" y2="346.7" stroke="#0a0a0a" stroke-width="1.15"/>
<text x="66.2" y="356.5" font-size="7.7" text-anchor="middle" font-weight="normal" >&#8722;1</text>
<line x1="99.2" y1="343.5" x2="99.2" y2="346.7" stroke="#0a0a0a" stroke-width="1.15"/>
<text x="99.2" y="356.5" font-size="7.7" text-anchor="middle" font-weight="normal" >0</text>
<line x1="132.2" y1="343.5" x2="132.2" y2="346.7" stroke="#0a0a0a" stroke-width="1.15"/>
<text x="132.2" y="356.5" font-size="7.7" text-anchor="middle" font-weight="normal" >1</text>
<line x1="165.2" y1="343.5" x2="165.2" y2="346.7" stroke="#0a0a0a" stroke-width="1.15"/>
<text x="165.2" y="356.5" font-size="7.7" text-anchor="middle" font-weight="normal" >2</text>
<line x1="198.2" y1="343.5" x2="198.2" y2="346.7" stroke="#0a0a0a" stroke-width="1.15"/>
<text x="198.2" y="356.5" font-size="7.7" text-anchor="middle" font-weight="normal" >3</text>
<line x1="231.2" y1="343.5" x2="231.2" y2="346.7" stroke="#0a0a0a" stroke-width="1.15"/>
<text x="231.2" y="356.5" font-size="7.7" text-anchor="middle" font-weight="normal" >4</text>
<text x="0" y="371.2" font-size="9.8" stroke="#222" stroke-width="0.35" text-anchor="middle" transform="translate(148.9,0) scale(0.70,1) translate(0,0)" fill="#222">Weeks from CAR T-cell infusion</text>
<text x="0" y="0" font-size="9.8" stroke="#222" stroke-width="0.35" text-anchor="middle" transform="translate(16.5,285.5) rotate(-90) scale(0.756,1)" fill="#222">ANC (/ &#181;L)</text>
<rect x="192.2" y="243.7" width="6.6" height="6.3" fill="#25a2e0" stroke="#16699c" stroke-width="0.6"/>
<rect x="192.2" y="255.9" width="6.6" height="6.3" fill="#10538c" stroke="#0a3a62" stroke-width="0.6"/>
<text x="201.7" y="249.1" font-size="7.3" text-anchor="start" font-weight="normal" >Low (0)</text>
<text x="201.7" y="261.3" font-size="7.3" text-anchor="start" font-weight="normal" >High (1-2)</text>
<text x="0" y="0" font-size="13.8" font-weight="bold" fill="#000" stroke="#000" stroke-width="0.5" transform="translate(268.9,209) scale(0.86,1)">C</text>
<text x="404.8" y="205.3" font-size="9.6" text-anchor="middle" font-weight="normal" >ANC over time by risk of PSN</text>
<text x="405.9" y="217.2" font-size="9.6" text-anchor="middle" font-weight="normal" >Pre and post infusion 5 point model</text>
<path d="M331.1,233.2 331.4,233.3 331.7,233.5 331.9,233.8 332,234.1 332,234.7 332,235.3 332,235.9 332,236.5 332,237.1 332,237.7 332,238.3 332,238.9 332,239.5 332,240.1 332,240.7 332,241.3 332,241.9 332,242.5 332,243.1 332,243.7 332,244.3 332,244.9 332,245.5 332,246.1 332,246.7 332,247.3 332,247.9 332,248.5 332,249.1 332,249.7 332,250.3 332,250.9 332,251.5 332,252.1 332,252.7 332,253.3 332,253.9 332,254.5 332,255.1 332,255.7 332,256.3 332,256.9 332,257.5 332,258.1 332,258.7 332,259.3 332,259.9 332,260.5 332,261.1 332,261.7 332,262.3 332,262.9 332,263.5 332,264.1 332,264.7 332,265.3 332,265.9 332,266.5 332,267.1 332,267.7 332,268.3 332,268.9 332,269.5 332,270.1 332,270.7 332,271.3 332,271.9 332,272.5 332,273.1 332,273.7 332,274.3 332,274.9 332,275.5 332,276.1 332,276.7 332,277.3 332,277.9 332,278.5 332,279.1 332,279.7 332,280.3 332,280.9 332,281.5 332,282.1 332,282.7 332,283.3 332,283.9 332,284.5 332,285.1 332,285.7 332,286.3 332,286.9 332.1,287.5 332.1,288.1 332.1,288.7 332.1,289.3 332.1,289.9 332.1,290.5 332.1,291.1 332.1,291.7 332.1,292.3 332.1,292.9 332.1,293.5 332.1,294.1 332.1,294.7 332.1,295.3 332.1,295.9 332.1,296.5 332.1,297.1 332.2,297.7 332.3,298.3 332.4,298.9 332.5,299.5 332.6,300.1 332.7,300.7 332.7,301.3 332.7,301.9 332.7,302.5 332.7,303.1 332.6,303.7 332.5,304.3 332.4,304.9 332.4,305.5 332.3,306.1 332.3,306.7 332.3,307.3 332.3,307.9 332.4,308.5 332.5,309.1 332.5,309.7 332.6,310.3 332.8,310.9 332.9,311.5 333,312.1 333.1,312.7 333.2,313.3 333.4,313.9 333.5,314.5 333.6,315.1 333.8,315.7 333.9,316.3 334.1,316.9 334.3,317.5 334.4,318.1 334.6,318.7 334.8,319.3 334.9,319.9 335,320.5 335.1,321.1 335.2,321.7 335.3,322.3 335.4,322.9 335.4,323.5 335.5,324.1 335.6,324.7 335.8,325.3 335.9,325.9 336,326.5 336.1,327.1 336.3,327.7 336.5,328.3 336.8,328.9 337.3,329.5 338,330.1 338.8,330.7 339.5,331.3 340.3,331.9 341.1,332.5 341.9,333.1 342.6,333.7 343.1,334.3 343.6,334.9 344.1,335.5 344.5,336.1 344.8,336.7 345,337.3 345.2,337.9 345.4,338.5 345.5,339.1 345.6,339.6 315.6,339.6 315.7,339.1 315.8,338.5 316,337.9 316.2,337.3 316.4,336.7 316.7,336.1 317.1,335.5 317.6,334.9 318.1,334.3 318.6,333.7 319.3,333.1 320.1,332.5 320.9,331.9 321.7,331.3 322.4,330.7 323.2,330.1 323.9,329.5 324.4,328.9 324.7,328.3 324.9,327.7 325.1,327.1 325.2,326.5 325.3,325.9 325.4,325.3 325.6,324.7 325.7,324.1 325.8,323.5 325.8,322.9 325.9,322.3 326,321.7 326.1,321.1 326.2,320.5 326.3,319.9 326.4,319.3 326.6,318.7 326.8,318.1 326.9,317.5 327.1,316.9 327.3,316.3 327.4,315.7 327.6,315.1 327.7,314.5 327.8,313.9 328,313.3 328.1,312.7 328.2,312.1 328.3,311.5 328.4,310.9 328.6,310.3 328.7,309.7 328.7,309.1 328.8,308.5 328.9,307.9 328.9,307.3 328.9,306.7 328.9,306.1 328.8,305.5 328.8,304.9 328.7,304.3 328.6,303.7 328.5,303.1 328.5,302.5 328.5,301.9 328.5,301.3 328.5,300.7 328.6,300.1 328.7,299.5 328.8,298.9 328.9,298.3 329,297.7 329.1,297.1 329.1,296.5 329.1,295.9 329.1,295.3 329.1,294.7 329.1,294.1 329.1,293.5 329.1,292.9 329.1,292.3 329.1,291.7 329.1,291.1 329.1,290.5 329.1,289.9 329.1,289.3 329.1,288.7 329.1,288.1 329.1,287.5 329.2,286.9 329.2,286.3 329.2,285.7 329.2,285.1 329.2,284.5 329.2,283.9 329.2,283.3 329.2,282.7 329.2,282.1 329.2,281.5 329.2,280.9 329.2,280.3 329.2,279.7 329.2,279.1 329.2,278.5 329.2,277.9 329.2,277.3 329.2,276.7 329.2,276.1 329.2,275.5 329.2,274.9 329.2,274.3 329.2,273.7 329.2,273.1 329.2,272.5 329.2,271.9 329.2,271.3 329.2,270.7 329.2,270.1 329.2,269.5 329.2,268.9 329.2,268.3 329.2,267.7 329.2,267.1 329.2,266.5 329.2,265.9 329.2,265.3 329.2,264.7 329.2,264.1 329.2,263.5 329.2,262.9 329.2,262.3 329.2,261.7 329.2,261.1 329.2,260.5 329.2,259.9 329.2,259.3 329.2,258.7 329.2,258.1 329.2,257.5 329.2,256.9 329.2,256.3 329.2,255.7 329.2,255.1 329.2,254.5 329.2,253.9 329.2,253.3 329.2,252.7 329.2,252.1 329.2,251.5 329.2,250.9 329.2,250.3 329.2,249.7 329.2,249.1 329.2,248.5 329.2,247.9 329.2,247.3 329.2,246.7 329.2,246.1 329.2,245.5 329.2,244.9 329.2,244.3 329.2,243.7 329.2,243.1 329.2,242.5 329.2,241.9 329.2,241.3 329.2,240.7 329.2,240.1 329.2,239.5 329.2,238.9 329.2,238.3 329.2,237.7 329.2,237.1 329.2,236.5 329.2,235.9 329.2,235.3 329.2,234.7 329.2,234.1 329.3,233.8 329.5,233.5 329.8,233.3 330.1,233.2Z" fill="#25a2e0" stroke="#16699c" stroke-width="0.7" stroke-linejoin="round"/>
<line x1="358.4" y1="313" x2="358.4" y2="337.1" stroke="#10538c" stroke-width="2.3" stroke-linecap="round"/>
<ellipse cx="358.4" cy="313" rx="2.3" ry="1.4" fill="#10538c"/>
<rect x="343.6" y="336.6" width="29.6" height="2.6" rx="1.3" fill="#10538c" stroke="#0a3a62" stroke-width="0.5"/>
<path d="M392.5,231.2 392.8,231.3 393.1,231.4 393.2,231.7 393.3,232 393.3,232.6 393.3,233.2 393.3,233.8 393.3,234.4 393.3,235 393.3,235.6 393.3,236.2 393.3,236.8 393.3,237.4 393.3,238 393.3,238.6 393.3,239.2 393.3,239.8 393.3,240.4 393.3,241 393.3,241.6 393.3,242.2 393.3,242.8 393.3,243.4 393.3,244 393.3,244.6 393.3,245.2 393.3,245.8 393.3,246.4 393.3,247 393.3,247.6 393.3,248.2 393.3,248.8 393.3,249.4 393.3,250 393.3,250.6 393.3,251.2 393.3,251.8 393.3,252.4 393.3,253 393.3,253.6 393.3,254.2 393.3,254.8 393.3,255.4 393.3,256 393.3,256.6 393.3,257.2 393.3,257.8 393.3,258.4 393.3,259 393.3,259.6 393.3,260.2 393.3,260.8 393.3,261.4 393.3,262 393.3,262.6 393.3,263.2 393.3,263.8 393.3,264.4 393.4,265 393.4,265.6 393.4,266.2 393.4,266.8 393.4,267.4 393.4,268 393.4,268.6 393.4,269.2 393.4,269.8 393.4,270.4 393.4,271 393.4,271.6 393.4,272.2 393.4,272.8 393.4,273.4 393.4,274 393.4,274.6 393.4,275.2 393.4,275.8 393.4,276.4 393.4,277 393.4,277.6 393.4,278.2 393.4,278.8 393.4,279.4 393.4,280 393.4,280.6 393.4,281.2 393.4,281.8 393.4,282.4 393.4,283 393.4,283.6 393.5,284.2 393.5,284.8 393.5,285.4 393.5,286 393.5,286.6 393.5,287.2 393.5,287.8 393.5,288.4 393.5,289 393.5,289.6 393.5,290.2 393.5,290.8 393.5,291.4 393.6,292 393.6,292.6 393.7,293.2 393.7,293.8 393.8,294.4 393.8,295 393.9,295.6 394,296.2 394,296.8 394.1,297.4 394.2,298 394.3,298.6 394.4,299.2 394.5,299.8 394.6,300.4 394.7,301 394.8,301.6 394.9,302.2 395,302.8 395.1,303.4 395.2,304 395.3,304.6 395.4,305.2 395.5,305.8 395.6,306.4 395.7,307 395.8,307.6 396,308.2 396.1,308.8 396.2,309.4 396.2,310 396.3,310.6 396.4,311.2 396.5,311.8 396.6,312.4 396.6,313 396.7,313.6 396.8,314.2 396.8,314.8 396.9,315.4 396.9,316 397,316.6 397,317.2 397.1,317.8 397.1,318.4 397.1,319 397.2,319.6 397.2,320.2 397.3,320.8 397.3,321.4 397.4,322 397.4,322.6 397.4,323.2 397.5,323.8 397.5,324.4 397.6,325 397.6,325.6 397.7,326.2 397.8,326.8 398.1,327.4 398.6,328 399.1,328.6 399.6,329.2 400.3,329.8 401.1,330.4 402,331 402.8,331.6 403.4,332.2 404,332.8 404.6,333.4 405.1,334 405.4,334.6 405.7,335.2 406,335.8 406.3,336.4 406.5,337 406.8,337.6 406.9,338.2 407,338.8 407.1,339.4 407.1,339.6 376.7,339.6 376.7,339.4 376.8,338.8 376.9,338.2 377,337.6 377.3,337 377.5,336.4 377.8,335.8 378.1,335.2 378.4,334.6 378.7,334 379.2,333.4 379.8,332.8 380.4,332.2 381,331.6 381.8,331 382.7,330.4 383.5,329.8 384.2,329.2 384.7,328.6 385.2,328 385.7,327.4 386,326.8 386.1,326.2 386.2,325.6 386.2,325 386.3,324.4 386.3,323.8 386.4,323.2 386.4,322.6 386.4,322 386.5,321.4 386.5,320.8 386.6,320.2 386.6,319.6 386.7,319 386.7,318.4 386.7,317.8 386.8,317.2 386.8,316.6 386.9,316 386.9,315.4 387,314.8 387,314.2 387.1,313.6 387.2,313 387.2,312.4 387.3,311.8 387.4,311.2 387.5,310.6 387.6,310 387.6,309.4 387.7,308.8 387.8,308.2 388,307.6 388.1,307 388.2,306.4 388.3,305.8 388.4,305.2 388.5,304.6 388.6,304 388.7,303.4 388.8,302.8 388.9,302.2 389,301.6 389.1,301 389.2,300.4 389.3,299.8 389.4,299.2 389.5,298.6 389.6,298 389.7,297.4 389.8,296.8 389.8,296.2 389.9,295.6 390,295 390,294.4 390.1,293.8 390.1,293.2 390.2,292.6 390.2,292 390.3,291.4 390.3,290.8 390.3,290.2 390.3,289.6 390.3,289 390.3,288.4 390.3,287.8 390.3,287.2 390.3,286.6 390.3,286 390.3,285.4 390.3,284.8 390.3,284.2 390.4,283.6 390.4,283 390.4,282.4 390.4,281.8 390.4,281.2 390.4,280.6 390.4,280 390.4,279.4 390.4,278.8 390.4,278.2 390.4,277.6 390.4,277 390.4,276.4 390.4,275.8 390.4,275.2 390.4,274.6 390.4,274 390.4,273.4 390.4,272.8 390.4,272.2 390.4,271.6 390.4,271 390.4,270.4 390.4,269.8 390.4,269.2 390.4,268.6 390.4,268 390.4,267.4 390.4,266.8 390.4,266.2 390.4,265.6 390.4,265 390.5,264.4 390.5,263.8 390.5,263.2 390.5,262.6 390.5,262 390.5,261.4 390.5,260.8 390.5,260.2 390.5,259.6 390.5,259 390.5,258.4 390.5,257.8 390.5,257.2 390.5,256.6 390.5,256 390.5,255.4 390.5,254.8 390.5,254.2 390.5,253.6 390.5,253 390.5,252.4 390.5,251.8 390.5,251.2 390.5,250.6 390.5,250 390.5,249.4 390.5,248.8 390.5,248.2 390.5,247.6 390.5,247 390.5,246.4 390.5,245.8 390.5,245.2 390.5,244.6 390.5,244 390.5,243.4 390.5,242.8 390.5,242.2 390.5,241.6 390.5,241 390.5,240.4 390.5,239.8 390.5,239.2 390.5,238.6 390.5,238 390.5,237.4 390.5,236.8 390.5,236.2 390.5,235.6 390.5,235 390.5,234.4 390.5,233.8 390.5,233.2 390.5,232.6 390.5,232 390.6,231.7 390.7,231.4 391,231.3 391.3,231.2Z" fill="#25a2e0" stroke="#16699c" stroke-width="0.7" stroke-linejoin="round"/>
<line x1="419.8" y1="317.4" x2="419.8" y2="337.1" stroke="#10538c" stroke-width="2.3" stroke-linecap="round"/>
<ellipse cx="419.8" cy="317.4" rx="2.2" ry="1.4" fill="#10538c"/>
<ellipse cx="419.8" cy="329.2" rx="2" ry="2" fill="#10538c"/>
<rect x="405.3" y="336.6" width="29" height="2.6" rx="1.3" fill="#10538c" stroke="#0a3a62" stroke-width="0.5"/>
<path d="M454.9,277.4 455.2,277.5 455.5,277.7 455.7,278 455.8,278.3 455.8,278.9 455.8,279.5 455.8,280.1 455.8,280.7 455.8,281.3 455.8,281.9 455.8,282.5 455.8,283.1 455.8,283.7 455.8,284.3 455.8,284.9 455.9,285.5 455.9,286.1 455.9,286.7 456,287.3 456,287.9 456.1,288.5 456.1,289.1 456.2,289.7 456.2,290.3 456.3,290.9 456.3,291.5 456.4,292.1 456.5,292.7 456.5,293.3 456.6,293.9 456.7,294.5 456.8,295.1 456.9,295.7 456.9,296.3 457,296.9 457.1,297.5 457.1,298.1 457.2,298.7 457.3,299.3 457.3,299.9 457.4,300.5 457.5,301.1 457.5,301.7 457.6,302.3 457.6,302.9 457.7,303.5 457.7,304.1 457.8,304.7 457.8,305.3 457.9,305.9 457.9,306.5 458,307.1 458,307.7 458,308.3 458.1,308.9 458.1,309.5 458.2,310.1 458.2,310.7 458.3,311.3 458.3,311.9 458.4,312.5 458.4,313.1 458.5,313.7 458.6,314.3 458.6,314.9 458.7,315.5 458.8,316.1 458.8,316.7 458.9,317.3 459,317.9 459.1,318.5 459.3,319.1 459.4,319.7 459.6,320.3 459.7,320.9 459.9,321.5 460.1,322.1 460.4,322.7 460.7,323.3 461,323.9 461.3,324.5 461.6,325.1 461.9,325.7 462.2,326.3 462.5,326.9 462.9,327.5 463.2,328.1 463.6,328.7 464,329.3 464.3,329.9 464.7,330.5 465.1,331.1 465.5,331.7 465.8,332.3 466.2,332.9 466.5,333.5 466.8,334.1 467.1,334.7 467.4,335.3 467.6,335.9 467.9,336.5 468,337.1 468.2,337.7 468.3,338.3 468.4,338.9 468.5,339.5 468.5,339.6 438.5,339.6 438.5,339.5 438.6,338.9 438.7,338.3 438.8,337.7 439,337.1 439.1,336.5 439.4,335.9 439.6,335.3 439.9,334.7 440.2,334.1 440.5,333.5 440.8,332.9 441.2,332.3 441.5,331.7 441.9,331.1 442.3,330.5 442.7,329.9 443,329.3 443.4,328.7 443.8,328.1 444.1,327.5 444.5,326.9 444.8,326.3 445.1,325.7 445.4,325.1 445.7,324.5 446,323.9 446.3,323.3 446.6,322.7 446.9,322.1 447.1,321.5 447.3,320.9 447.4,320.3 447.6,319.7 447.7,319.1 447.9,318.5 448,317.9 448.1,317.3 448.2,316.7 448.2,316.1 448.3,315.5 448.4,314.9 448.4,314.3 448.5,313.7 448.6,313.1 448.6,312.5 448.7,311.9 448.7,311.3 448.8,310.7 448.8,310.1 448.9,309.5 448.9,308.9 449,308.3 449,307.7 449,307.1 449.1,306.5 449.1,305.9 449.2,305.3 449.2,304.7 449.3,304.1 449.3,303.5 449.4,302.9 449.4,302.3 449.5,301.7 449.5,301.1 449.6,300.5 449.7,299.9 449.7,299.3 449.8,298.7 449.9,298.1 449.9,297.5 450,296.9 450.1,296.3 450.1,295.7 450.2,295.1 450.3,294.5 450.4,293.9 450.5,293.3 450.5,292.7 450.6,292.1 450.7,291.5 450.7,290.9 450.8,290.3 450.8,289.7 450.9,289.1 450.9,288.5 451,287.9 451,287.3 451.1,286.7 451.1,286.1 451.1,285.5 451.2,284.9 451.2,284.3 451.2,283.7 451.2,283.1 451.2,282.5 451.2,281.9 451.2,281.3 451.2,280.7 451.2,280.1 451.2,279.5 451.2,278.9 451.2,278.3 451.3,278 451.5,277.7 451.8,277.5 452.1,277.4Z" fill="#25a2e0" stroke="#16699c" stroke-width="0.7" stroke-linejoin="round"/>
<line x1="480.9" y1="289.8" x2="480.9" y2="337.1" stroke="#10538c" stroke-width="2.3" stroke-linecap="round"/>
<ellipse cx="480.9" cy="289.8" rx="2.3" ry="1.4" fill="#10538c"/>
<ellipse cx="480.9" cy="331.2" rx="2" ry="2" fill="#10538c"/>
<rect x="466.1" y="336.6" width="29.6" height="2.6" rx="1.3" fill="#10538c" stroke="#0a3a62" stroke-width="0.5"/>
<line x1="308" y1="328.7" x2="512" y2="328.7" stroke="#f2c266" stroke-width="1.2" stroke-opacity="0.8"/>
<path d="M307.9,223.8 V343.5 H503.3" fill="none" stroke="#0a0a0a" stroke-width="1.05" stroke-linejoin="miter"/>
<line x1="304.7" y1="338.3" x2="307.9" y2="338.3" stroke="#0a0a0a" stroke-width="1.15"/>
<text x="300.9" y="341" font-size="7.7" text-anchor="end" font-weight="normal" >0</text>
<line x1="304.7" y1="329" x2="307.9" y2="329" stroke="#0a0a0a" stroke-width="1.15"/>
<text x="300.9" y="331.7" font-size="7.7" text-anchor="end" font-weight="normal" >500</text>
<line x1="304.7" y1="301.2" x2="307.9" y2="301.2" stroke="#0a0a0a" stroke-width="1.15"/>
<text x="300.9" y="303.9" font-size="7.7" text-anchor="end" font-weight="normal" >2000</text>
<line x1="304.7" y1="264.1" x2="307.9" y2="264.1" stroke="#0a0a0a" stroke-width="1.15"/>
<text x="300.9" y="266.8" font-size="7.7" text-anchor="end" font-weight="normal" >4000</text>
<line x1="304.7" y1="227" x2="307.9" y2="227" stroke="#0a0a0a" stroke-width="1.15"/>
<text x="300.9" y="229.7" font-size="7.7" text-anchor="end" font-weight="normal" >6000</text>
<line x1="344.5" y1="343.5" x2="344.5" y2="346.7" stroke="#0a0a0a" stroke-width="1.15"/>
<text x="344.5" y="356.5" font-size="7.7" text-anchor="middle" font-weight="normal" >2</text>
<line x1="405.8" y1="343.5" x2="405.8" y2="346.7" stroke="#0a0a0a" stroke-width="1.15"/>
<text x="405.8" y="356.5" font-size="7.7" text-anchor="middle" font-weight="normal" >3</text>
<line x1="467.2" y1="343.5" x2="467.2" y2="346.7" stroke="#0a0a0a" stroke-width="1.15"/>
<text x="467.2" y="356.5" font-size="7.7" text-anchor="middle" font-weight="normal" >4</text>
<text x="0" y="371" font-size="9.8" stroke="#222" stroke-width="0.35" text-anchor="middle" transform="translate(406.2,0) scale(0.70,1) translate(0,0)" fill="#222">Weeks from CAR T-cell infusion</text>
<text x="0" y="0" font-size="9.8" stroke="#222" stroke-width="0.35" text-anchor="middle" transform="translate(276.1,286.1) rotate(-90) scale(0.756,1)" fill="#222">ANC (/ &#181;L)</text>
<rect x="445.9" y="244.4" width="6.6" height="6.3" fill="#25a2e0" stroke="#16699c" stroke-width="0.6"/>
<rect x="445.9" y="256.5" width="6.6" height="6.3" fill="#10538c" stroke="#0a3a62" stroke-width="0.6"/>
<text x="456.5" y="249.8" font-size="7.3" text-anchor="start" font-weight="normal" >Low (0-3)</text>
<text x="456.5" y="261.9" font-size="7.3" text-anchor="start" font-weight="normal" >High (4-5)</text>
<text x="0" y="0" font-size="13.8" font-weight="bold" fill="#000" stroke="#000" stroke-width="0.5" transform="translate(8.7,403) scale(0.86,1)">D</text>
<text x="147.6" y="403.1" font-size="9.6" text-anchor="middle" font-weight="normal" >ANC over time by risk of PSN</text>
<text x="149" y="414.9" font-size="9.6" text-anchor="middle" font-weight="normal" >Pre-infusion 4 point model</text>
<path d="M60,426 60.3,426.1 60.6,426.3 60.8,426.5 60.9,426.8 60.9,427.4 60.9,428 60.9,428.6 60.9,429.2 60.9,429.8 60.9,430.4 60.9,431 60.9,431.6 60.9,432.2 60.9,432.8 60.9,433.4 60.9,434 60.9,434.6 60.9,435.2 60.9,435.8 60.9,436.4 60.9,437 60.9,437.6 60.9,438.2 60.9,438.8 60.9,439.4 60.9,440 60.9,440.6 60.9,441.2 60.9,441.8 60.9,442.4 60.9,443 60.9,443.6 60.9,444.2 60.9,444.8 60.9,445.4 60.9,446 60.9,446.6 60.9,447.2 60.9,447.8 60.9,448.4 60.9,449 60.9,449.6 60.9,450.2 60.9,450.8 60.9,451.4 60.9,452 60.9,452.6 60.9,453.2 60.9,453.8 60.9,454.4 60.9,455 60.9,455.6 60.9,456.2 60.9,456.8 60.9,457.4 60.9,458 60.9,458.6 60.9,459.2 60.9,459.8 60.9,460.4 60.9,461 60.9,461.6 60.9,462.2 60.9,462.8 60.9,463.4 60.9,464 60.9,464.6 60.9,465.2 60.9,465.8 60.9,466.4 60.9,467 60.9,467.6 60.9,468.2 60.9,468.8 60.9,469.4 60.9,470 60.9,470.6 60.9,471.2 60.9,471.8 60.9,472.4 60.9,473 60.9,473.6 60.9,474.2 60.9,474.8 60.9,475.4 60.9,476 60.9,476.6 60.9,477.2 60.9,477.8 60.9,478.4 60.9,479 60.9,479.6 60.9,480.2 60.9,480.8 61,481.4 61,482 61,482.6 61,483.2 61,483.8 61,484.4 61,485 61,485.6 61,486.2 61,486.8 61,487.4 61,488 61,488.6 61,489.2 61,489.8 61,490.4 61,491 61.1,491.6 61.1,492.2 61.2,492.8 61.3,493.4 61.3,494 61.4,494.6 61.5,495.2 61.7,495.8 61.8,496.4 61.9,497 62,497.6 62.1,498.2 62.2,498.8 62.3,499.4 62.5,500 62.6,500.6 62.7,501.2 62.8,501.8 62.9,502.4 63,503 63.1,503.6 63.2,504.2 63.2,504.8 63.3,505.4 63.4,506 63.5,506.6 63.6,507.2 63.6,507.8 63.7,508.4 63.8,509 63.8,509.6 63.9,510.2 63.9,510.8 64,511.4 64,512 64.1,512.6 64.1,513.2 64.1,513.8 64.2,514.4 64.2,515 64.2,515.6 64.2,516.2 64.2,516.8 64.3,517.4 64.3,518 64.3,518.6 64.4,519.2 64.4,519.8 64.4,520.4 64.4,521 64.4,521.6 64.5,522.2 64.5,522.8 64.5,523.4 64.6,524 64.6,524.6 64.7,525.2 64.7,525.8 64.8,526.4 64.9,527 65,527.6 65.1,528.2 65.2,528.8 65.3,529.4 65.4,530 65.6,530.6 65.7,531.2 65.9,531.8 66.1,532.4 66.3,533 66.5,533.6 66.9,534.2 67.2,534.8 67.6,535.4 68.1,536 68.6,536.6 68.8,537.2 68.9,537.8 69,538.4 69,539 69,539.6 69,540.2 69,540.8 69,541.4 69,542 69,542.6 69,543.2 69,543.2 50,543.2 50,543.2 50,542.6 50,542 50,541.4 50,540.8 50,540.2 50,539.6 50,539 50,538.4 50.1,537.8 50.2,537.2 50.4,536.6 50.9,536 51.4,535.4 51.8,534.8 52.1,534.2 52.5,533.6 52.7,533 52.9,532.4 53.1,531.8 53.3,531.2 53.4,530.6 53.6,530 53.7,529.4 53.8,528.8 53.9,528.2 54,527.6 54.1,527 54.2,526.4 54.3,525.8 54.3,525.2 54.4,524.6 54.4,524 54.5,523.4 54.5,522.8 54.5,522.2 54.6,521.6 54.6,521 54.6,520.4 54.6,519.8 54.6,519.2 54.7,518.6 54.7,518 54.7,517.4 54.8,516.8 54.8,516.2 54.8,515.6 54.8,515 54.8,514.4 54.9,513.8 54.9,513.2 54.9,512.6 55,512 55,511.4 55.1,510.8 55.1,510.2 55.2,509.6 55.2,509 55.3,508.4 55.4,507.8 55.4,507.2 55.5,506.6 55.6,506 55.7,505.4 55.8,504.8 55.8,504.2 55.9,503.6 56,503 56.1,502.4 56.2,501.8 56.3,501.2 56.4,500.6 56.5,500 56.7,499.4 56.8,498.8 56.9,498.2 57,497.6 57.1,497 57.2,496.4 57.3,495.8 57.5,495.2 57.6,494.6 57.7,494 57.7,493.4 57.8,492.8 57.9,492.2 57.9,491.6 58,491 58,490.4 58,489.8 58,489.2 58,488.6 58,488 58,487.4 58,486.8 58,486.2 58,485.6 58,485 58,484.4 58,483.8 58,483.2 58,482.6 58,482 58,481.4 58.1,480.8 58.1,480.2 58.1,479.6 58.1,479 58.1,478.4 58.1,477.8 58.1,477.2 58.1,476.6 58.1,476 58.1,475.4 58.1,474.8 58.1,474.2 58.1,473.6 58.1,473 58.1,472.4 58.1,471.8 58.1,471.2 58.1,470.6 58.1,470 58.1,469.4 58.1,468.8 58.1,468.2 58.1,467.6 58.1,467 58.1,466.4 58.1,465.8 58.1,465.2 58.1,464.6 58.1,464 58.1,463.4 58.1,462.8 58.1,462.2 58.1,461.6 58.1,461 58.1,460.4 58.1,459.8 58.1,459.2 58.1,458.6 58.1,458 58.1,457.4 58.1,456.8 58.1,456.2 58.1,455.6 58.1,455 58.1,454.4 58.1,453.8 58.1,453.2 58.1,452.6 58.1,452 58.1,451.4 58.1,450.8 58.1,450.2 58.1,449.6 58.1,449 58.1,448.4 58.1,447.8 58.1,447.2 58.1,446.6 58.1,446 58.1,445.4 58.1,444.8 58.1,444.2 58.1,443.6 58.1,443 58.1,442.4 58.1,441.8 58.1,441.2 58.1,440.6 58.1,440 58.1,439.4 58.1,438.8 58.1,438.2 58.1,437.6 58.1,437 58.1,436.4 58.1,435.8 58.1,435.2 58.1,434.6 58.1,434 58.1,433.4 58.1,432.8 58.1,432.2 58.1,431.6 58.1,431 58.1,430.4 58.1,429.8 58.1,429.2 58.1,428.6 58.1,428 58.1,427.4 58.1,426.8 58.2,426.5 58.4,426.3 58.7,426.1 59,426Z" fill="#25a2e0" stroke="#16699c" stroke-width="0.7" stroke-linejoin="round"/>
<path d="M75.3,489.1 75.6,489.2 75.9,489.3 76.1,489.6 76.2,490 76.2,490.6 76.2,491.2 76.2,491.8 76.2,492.4 76.2,493 76.2,493.6 76.2,494.2 76.2,494.8 76.2,495.4 76.2,496 76.2,496.6 76.2,497.2 76.2,497.8 76.2,498.4 76.2,499 76.2,499.6 76.2,500.2 76.2,500.8 76.2,501.4 76.3,502 76.4,502.6 76.5,503.2 76.6,503.8 76.8,504.4 77,505 77.1,505.6 77.3,506.2 77.4,506.8 77.5,507.4 77.5,508 77.5,508.6 77.5,509.2 77.4,509.8 77.4,510.4 77.3,511 77.2,511.6 77.1,512.2 77.1,512.8 77,513.4 76.9,514 76.8,514.6 76.8,515.2 76.7,515.8 76.7,516.4 76.7,517 76.7,517.6 76.7,518.2 76.7,518.8 76.7,519.4 76.7,520 76.7,520.6 76.7,521.2 76.7,521.8 76.7,522.4 76.7,523 76.7,523.6 76.7,524.2 76.8,524.8 76.8,525.4 76.9,526 77,526.6 77,527.2 77.1,527.8 77.2,528.4 77.3,529 77.4,529.6 77.5,530.2 77.7,530.8 77.8,531.4 78,532 78.2,532.6 78.5,533.2 78.8,533.8 79.1,534.4 79.5,535 80,535.6 80.8,536.2 81.5,536.8 82,537.4 82.4,538 82.7,538.6 83,539.2 83.2,539.8 83.2,540.4 83.2,541 83.2,541.6 83.2,542.2 83.2,542.8 83.2,543.1 65.8,543.1 65.8,542.8 65.8,542.2 65.8,541.6 65.8,541 65.8,540.4 65.8,539.8 66,539.2 66.3,538.6 66.6,538 67,537.4 67.5,536.8 68.2,536.2 69,535.6 69.5,535 69.9,534.4 70.2,533.8 70.5,533.2 70.8,532.6 71,532 71.2,531.4 71.3,530.8 71.5,530.2 71.6,529.6 71.7,529 71.8,528.4 71.9,527.8 72,527.2 72,526.6 72.1,526 72.2,525.4 72.2,524.8 72.3,524.2 72.3,523.6 72.3,523 72.3,522.4 72.3,521.8 72.3,521.2 72.3,520.6 72.3,520 72.3,519.4 72.3,518.8 72.3,518.2 72.3,517.6 72.3,517 72.3,516.4 72.3,515.8 72.2,515.2 72.2,514.6 72.1,514 72,513.4 71.9,512.8 71.9,512.2 71.8,511.6 71.7,511 71.6,510.4 71.6,509.8 71.5,509.2 71.5,508.6 71.5,508 71.5,507.4 71.6,506.8 71.7,506.2 71.9,505.6 72,505 72.2,504.4 72.4,503.8 72.5,503.2 72.6,502.6 72.7,502 72.8,501.4 72.8,500.8 72.8,500.2 72.8,499.6 72.8,499 72.8,498.4 72.8,497.8 72.8,497.2 72.8,496.6 72.8,496 72.8,495.4 72.8,494.8 72.8,494.2 72.8,493.6 72.8,493 72.8,492.4 72.8,491.8 72.8,491.2 72.8,490.6 72.8,490 72.9,489.6 73.1,489.3 73.4,489.2 73.7,489.1Z" fill="#10538c" stroke="#0a3a62" stroke-width="0.7" stroke-linejoin="round"/>
<path d="M93,508.5 93.3,508.6 93.6,508.8 93.8,509.1 93.9,509.4 93.8,510 93.8,510.6 93.8,511.2 93.8,511.8 93.8,512.4 93.8,513 93.8,513.6 93.8,514.2 93.8,514.8 93.8,515.4 93.9,516 93.9,516.6 93.9,517.2 94,517.8 94.1,518.4 94.2,519 94.4,519.6 94.6,520.2 94.8,520.8 94.9,521.4 95.1,522 95.2,522.6 95.4,523.2 95.5,523.8 95.6,524.4 95.7,525 95.7,525.6 95.6,526.2 95.5,526.8 95.4,527.4 95.3,528 95.1,528.6 94.9,529.2 94.8,529.8 94.7,530.4 94.8,531 94.9,531.6 95.2,532.2 95.5,532.8 95.8,533.4 96.1,534 96.6,534.6 97,535.2 97.5,535.8 98,536.4 98.5,537 99,537.6 99.4,538.2 99.8,538.8 100.1,539.4 100.3,540 100.3,540.6 100.3,541.2 100.3,541.8 100.3,542.4 100.3,543 100.3,543.1 84.5,543.1 84.5,543 84.5,542.4 84.5,541.8 84.5,541.2 84.5,540.6 84.5,540 84.7,539.4 85,538.8 85.4,538.2 85.8,537.6 86.3,537 86.8,536.4 87.3,535.8 87.8,535.2 88.2,534.6 88.7,534 89,533.4 89.3,532.8 89.6,532.2 89.9,531.6 90,531 90.1,530.4 90,529.8 89.9,529.2 89.7,528.6 89.5,528 89.4,527.4 89.3,526.8 89.2,526.2 89.1,525.6 89.1,525 89.2,524.4 89.3,523.8 89.4,523.2 89.6,522.6 89.7,522 89.9,521.4 90,520.8 90.2,520.2 90.4,519.6 90.6,519 90.7,518.4 90.8,517.8 90.9,517.2 90.9,516.6 90.9,516 91,515.4 91,514.8 91,514.2 91,513.6 91,513 91,512.4 91,511.8 91,511.2 91,510.6 91,510 90.9,509.4 91,509.1 91.2,508.8 91.5,508.6 91.8,508.5Z" fill="#25a2e0" stroke="#16699c" stroke-width="0.7" stroke-linejoin="round"/>
<path d="M107.8,496.6 108.1,496.7 108.4,496.9 108.6,497.2 108.7,497.5 108.7,498.1 108.7,498.7 108.7,499.3 108.6,499.9 108.6,500.5 108.6,501.1 108.6,501.7 108.6,502.3 108.6,502.9 108.6,503.5 108.6,504.1 108.6,504.7 108.6,505.3 108.6,505.9 108.6,506.5 108.6,507.1 108.6,507.7 108.6,508.3 108.6,508.9 108.6,509.5 108.6,510.1 108.6,510.7 108.6,511.3 108.6,511.9 108.6,512.5 108.7,513.1 109.1,513.7 109.3,514.3 109.2,514.9 108.8,515.5 108.6,516.1 108.6,516.7 108.6,517.3 108.6,517.9 108.6,518.5 108.6,519.1 108.6,519.7 108.6,520.3 108.6,520.9 108.6,521.5 108.7,522.1 109,522.7 109.3,523.3 109.2,523.9 108.9,524.5 108.7,525.1 108.6,525.7 108.6,526.3 108.6,526.9 108.6,527.5 108.6,528.1 108.6,528.7 108.6,529.3 108.9,529.9 109.2,530.5 109.3,531.1 109.1,531.7 108.8,532.3 108.7,532.9 108.7,533.5 108.8,534.1 108.8,534.7 109,535.3 109.3,535.9 110,536.5 110.7,537.1 111.6,537.7 112.5,538.3 113.4,538.9 114.2,539.5 114.9,540.1 115.4,540.7 115.7,541.3 115.8,541.9 115.8,542.5 115.8,543.1 98.6,543.1 98.6,542.5 98.6,541.9 98.7,541.3 99,540.7 99.5,540.1 100.2,539.5 101,538.9 101.9,538.3 102.8,537.7 103.7,537.1 104.4,536.5 105.1,535.9 105.4,535.3 105.6,534.7 105.6,534.1 105.7,533.5 105.7,532.9 105.6,532.3 105.3,531.7 105.1,531.1 105.2,530.5 105.5,529.9 105.8,529.3 105.8,528.7 105.8,528.1 105.8,527.5 105.8,526.9 105.8,526.3 105.8,525.7 105.7,525.1 105.5,524.5 105.2,523.9 105.1,523.3 105.4,522.7 105.7,522.1 105.8,521.5 105.8,520.9 105.8,520.3 105.8,519.7 105.8,519.1 105.8,518.5 105.8,517.9 105.8,517.3 105.8,516.7 105.8,516.1 105.6,515.5 105.2,514.9 105.1,514.3 105.3,513.7 105.7,513.1 105.8,512.5 105.8,511.9 105.8,511.3 105.8,510.7 105.8,510.1 105.8,509.5 105.8,508.9 105.8,508.3 105.8,507.7 105.8,507.1 105.8,506.5 105.8,505.9 105.8,505.3 105.8,504.7 105.8,504.1 105.8,503.5 105.8,502.9 105.8,502.3 105.8,501.7 105.8,501.1 105.8,500.5 105.8,499.9 105.7,499.3 105.7,498.7 105.7,498.1 105.7,497.5 105.8,497.2 106,496.9 106.3,496.7 106.6,496.6Z" fill="#10538c" stroke="#0a3a62" stroke-width="0.7" stroke-linejoin="round"/>
<path d="M125.6,494.5 125.9,494.5 126.2,494.7 126.3,495 126.4,495.3 126.4,495.9 126.4,496.5 126.4,497.1 126.4,497.7 126.4,498.3 126.4,498.9 126.4,499.5 126.4,500.1 126.4,500.7 126.4,501.3 126.4,501.9 126.4,502.5 126.4,503.1 126.4,503.7 126.4,504.3 126.4,504.9 126.4,505.5 126.4,506.1 126.4,506.7 126.4,507.3 126.4,507.9 126.4,508.5 126.4,509.1 126.4,509.7 126.4,510.3 126.4,510.9 126.4,511.5 126.4,512.1 126.4,512.7 126.4,513.3 126.4,513.9 126.4,514.5 126.4,515.1 126.4,515.7 126.4,516.3 126.4,516.9 126.4,517.5 126.4,518.1 126.4,518.7 126.5,519.3 126.5,519.9 126.5,520.5 126.5,521.1 126.5,521.7 126.5,522.3 126.5,522.9 126.5,523.5 126.5,524.1 126.5,524.7 126.5,525.3 126.5,525.9 126.5,526.5 126.6,527.1 126.8,527.7 127,528.3 127.2,528.9 127.4,529.5 127.6,530.1 127.8,530.7 127.9,531.3 128.1,531.9 128.2,532.5 128.2,533.1 128,533.7 127.8,534.3 127.6,534.9 127.8,535.5 128.6,536.1 129.9,536.7 131.2,537.3 132.2,537.9 132.9,538.5 133.5,539.1 133.9,539.7 134,540.3 134,540.9 134,541.5 134,542.1 134,542.7 134,543.1 116,543.1 116,542.7 116,542.1 116,541.5 116,540.9 116,540.3 116.1,539.7 116.5,539.1 117.1,538.5 117.8,537.9 118.8,537.3 120.1,536.7 121.4,536.1 122.2,535.5 122.4,534.9 122.2,534.3 122,533.7 121.8,533.1 121.8,532.5 121.9,531.9 122.1,531.3 122.2,530.7 122.4,530.1 122.6,529.5 122.8,528.9 123,528.3 123.2,527.7 123.4,527.1 123.5,526.5 123.5,525.9 123.5,525.3 123.5,524.7 123.5,524.1 123.5,523.5 123.5,522.9 123.5,522.3 123.5,521.7 123.5,521.1 123.5,520.5 123.5,519.9 123.5,519.3 123.6,518.7 123.6,518.1 123.6,517.5 123.6,516.9 123.6,516.3 123.6,515.7 123.6,515.1 123.6,514.5 123.6,513.9 123.6,513.3 123.6,512.7 123.6,512.1 123.6,511.5 123.6,510.9 123.6,510.3 123.6,509.7 123.6,509.1 123.6,508.5 123.6,507.9 123.6,507.3 123.6,506.7 123.6,506.1 123.6,505.5 123.6,504.9 123.6,504.3 123.6,503.7 123.6,503.1 123.6,502.5 123.6,501.9 123.6,501.3 123.6,500.7 123.6,500.1 123.6,499.5 123.6,498.9 123.6,498.3 123.6,497.7 123.6,497.1 123.6,496.5 123.6,495.9 123.6,495.3 123.7,495 123.8,494.7 124.1,494.5 124.4,494.5Z" fill="#25a2e0" stroke="#16699c" stroke-width="0.7" stroke-linejoin="round"/>
<path d="M140.8,512.6 141.1,512.7 141.4,512.9 141.6,513.2 141.7,513.5 141.7,514.1 141.7,514.7 141.7,515.3 141.7,515.9 141.7,516.5 141.7,517.1 141.7,517.7 141.7,518.3 141.7,518.9 141.7,519.5 141.7,520.1 141.7,520.7 141.7,521.3 141.7,521.9 141.7,522.5 141.7,523.1 141.7,523.7 141.7,524.3 141.7,524.9 141.7,525.5 141.7,526.1 141.7,526.7 141.7,527.3 141.7,527.9 141.7,528.5 141.7,529.1 141.7,529.7 141.7,530.3 141.7,530.9 141.7,531.5 141.7,532.1 141.7,532.7 141.7,533.3 141.7,533.9 141.7,534.5 141.7,535.1 141.7,535.7 141.7,536.3 141.8,536.9 142.2,537.5 143.1,538.1 144,538.7 144.9,539.3 145.5,539.9 146.1,540.5 146.6,541.1 147.1,541.7 147.6,542.3 148,542.9 148.2,543.1 132.2,543.1 132.4,542.9 132.8,542.3 133.3,541.7 133.8,541.1 134.3,540.5 134.9,539.9 135.5,539.3 136.4,538.7 137.3,538.1 138.2,537.5 138.6,536.9 138.7,536.3 138.7,535.7 138.7,535.1 138.7,534.5 138.7,533.9 138.7,533.3 138.7,532.7 138.7,532.1 138.7,531.5 138.7,530.9 138.7,530.3 138.7,529.7 138.7,529.1 138.7,528.5 138.7,527.9 138.7,527.3 138.7,526.7 138.7,526.1 138.7,525.5 138.7,524.9 138.7,524.3 138.7,523.7 138.7,523.1 138.7,522.5 138.7,521.9 138.7,521.3 138.7,520.7 138.7,520.1 138.7,519.5 138.7,518.9 138.7,518.3 138.7,517.7 138.7,517.1 138.7,516.5 138.7,515.9 138.7,515.3 138.7,514.7 138.7,514.1 138.7,513.5 138.8,513.2 139,512.9 139.3,512.7 139.6,512.6Z" fill="#10538c" stroke="#0a3a62" stroke-width="0.7" stroke-linejoin="round"/>
<path d="M158.8,509.8 159.1,509.9 159.4,510.1 159.6,510.4 159.7,510.7 159.7,511.3 159.7,511.9 159.7,512.5 159.7,513.1 159.7,513.7 159.7,514.3 159.7,514.9 159.7,515.5 159.7,516.1 159.8,516.7 159.8,517.3 159.8,517.9 159.8,518.5 159.8,519.1 159.8,519.7 159.8,520.3 159.9,520.9 159.9,521.5 159.9,522.1 160,522.7 160.2,523.3 160.4,523.9 160.7,524.5 161,525.1 161.2,525.7 161.5,526.3 161.6,526.9 161.8,527.5 161.9,528.1 162,528.7 162.1,529.3 162.2,529.9 162.4,530.5 162.5,531.1 162.6,531.7 162.8,532.3 163,532.9 163.3,533.5 163.6,534.1 163.9,534.7 164.2,535.3 164.4,535.9 164.7,536.5 165,537.1 165.3,537.7 165.7,538.3 166,538.9 166.2,539.5 166.3,540.1 166.3,540.7 166.3,541.3 166.3,541.9 166.3,542.5 166.3,543.1 166.3,543.1 149.9,543.1 149.9,543.1 149.9,542.5 149.9,541.9 149.9,541.3 149.9,540.7 149.9,540.1 150,539.5 150.2,538.9 150.5,538.3 150.9,537.7 151.2,537.1 151.5,536.5 151.8,535.9 152,535.3 152.3,534.7 152.6,534.1 152.9,533.5 153.2,532.9 153.4,532.3 153.6,531.7 153.7,531.1 153.8,530.5 154,529.9 154.1,529.3 154.2,528.7 154.3,528.1 154.4,527.5 154.6,526.9 154.7,526.3 155,525.7 155.2,525.1 155.5,524.5 155.8,523.9 156,523.3 156.2,522.7 156.3,522.1 156.3,521.5 156.3,520.9 156.4,520.3 156.4,519.7 156.4,519.1 156.4,518.5 156.4,517.9 156.4,517.3 156.4,516.7 156.5,516.1 156.5,515.5 156.5,514.9 156.5,514.3 156.5,513.7 156.5,513.1 156.5,512.5 156.5,511.9 156.5,511.3 156.5,510.7 156.6,510.4 156.8,510.1 157.1,509.9 157.4,509.8Z" fill="#25a2e0" stroke="#16699c" stroke-width="0.7" stroke-linejoin="round"/>
<path d="M173.7,473 174,473.1 174.3,473.3 174.5,473.6 174.6,473.9 174.6,474.5 174.6,475.1 174.6,475.7 174.6,476.3 174.6,476.9 174.6,477.5 174.6,478.1 174.6,478.7 174.6,479.3 174.6,479.9 174.6,480.5 174.6,481.1 174.6,481.7 174.6,482.3 174.6,482.9 174.6,483.5 174.6,484.1 174.6,484.7 174.6,485.3 174.6,485.9 174.6,486.5 174.6,487.1 174.6,487.7 174.6,488.3 174.6,488.9 174.6,489.5 174.6,490.1 174.6,490.7 174.6,491.3 174.6,491.9 174.6,492.5 174.6,493.1 174.6,493.7 174.6,494.3 174.6,494.9 174.6,495.5 174.6,496.1 174.6,496.7 174.6,497.3 174.6,497.9 174.6,498.5 174.6,499.1 174.6,499.7 174.6,500.3 174.6,500.9 174.6,501.5 174.6,502.1 174.6,502.7 174.6,503.3 174.6,503.9 174.6,504.5 174.6,505.1 174.6,505.7 174.6,506.3 174.6,506.9 174.6,507.5 174.6,508.1 174.6,508.7 174.6,509.3 174.6,509.9 174.6,510.5 174.6,511.1 174.6,511.7 174.6,512.3 174.6,512.9 174.6,513.5 174.7,514.1 174.7,514.7 174.7,515.3 174.7,515.9 174.7,516.5 174.7,517.1 174.7,517.7 174.7,518.3 174.7,518.9 174.7,519.5 174.7,520.1 174.7,520.7 174.7,521.3 174.7,521.9 174.7,522.5 174.7,523.1 174.7,523.7 174.7,524.3 174.7,524.9 174.7,525.5 174.7,526.1 174.7,526.7 174.7,527.3 174.8,527.9 174.8,528.5 174.9,529.1 175,529.7 175.1,530.3 175.2,530.9 175.3,531.5 175.5,532.1 175.6,532.7 175.8,533.3 176,533.9 176.3,534.5 176.6,535.1 176.9,535.7 177.3,536.3 177.7,536.9 178.3,537.5 179.1,538.1 179.9,538.7 180.4,539.3 180.6,539.9 180.8,540.5 180.9,541.1 181,541.7 181.1,542.3 181.1,542.9 181.1,543.1 165.1,543.1 165.1,542.9 165.1,542.3 165.2,541.7 165.3,541.1 165.4,540.5 165.6,539.9 165.8,539.3 166.3,538.7 167.1,538.1 167.9,537.5 168.5,536.9 168.9,536.3 169.3,535.7 169.6,535.1 169.9,534.5 170.2,533.9 170.4,533.3 170.6,532.7 170.7,532.1 170.9,531.5 171,530.9 171.1,530.3 171.2,529.7 171.3,529.1 171.4,528.5 171.4,527.9 171.5,527.3 171.5,526.7 171.5,526.1 171.5,525.5 171.5,524.9 171.5,524.3 171.5,523.7 171.5,523.1 171.5,522.5 171.5,521.9 171.5,521.3 171.5,520.7 171.5,520.1 171.5,519.5 171.5,518.9 171.5,518.3 171.5,517.7 171.5,517.1 171.5,516.5 171.5,515.9 171.5,515.3 171.5,514.7 171.5,514.1 171.6,513.5 171.6,512.9 171.6,512.3 171.6,511.7 171.6,511.1 171.6,510.5 171.6,509.9 171.6,509.3 171.6,508.7 171.6,508.1 171.6,507.5 171.6,506.9 171.6,506.3 171.6,505.7 171.6,505.1 171.6,504.5 171.6,503.9 171.6,503.3 171.6,502.7 171.6,502.1 171.6,501.5 171.6,500.9 171.6,500.3 171.6,499.7 171.6,499.1 171.6,498.5 171.6,497.9 171.6,497.3 171.6,496.7 171.6,496.1 171.6,495.5 171.6,494.9 171.6,494.3 171.6,493.7 171.6,493.1 171.6,492.5 171.6,491.9 171.6,491.3 171.6,490.7 171.6,490.1 171.6,489.5 171.6,488.9 171.6,488.3 171.6,487.7 171.6,487.1 171.6,486.5 171.6,485.9 171.6,485.3 171.6,484.7 171.6,484.1 171.6,483.5 171.6,482.9 171.6,482.3 171.6,481.7 171.6,481.1 171.6,480.5 171.6,479.9 171.6,479.3 171.6,478.7 171.6,478.1 171.6,477.5 171.6,476.9 171.6,476.3 171.6,475.7 171.6,475.1 171.6,474.5 171.6,473.9 171.7,473.6 171.9,473.3 172.2,473.1 172.5,473Z" fill="#10538c" stroke="#0a3a62" stroke-width="0.7" stroke-linejoin="round"/>
<path d="M191.9,470.6 192.2,470.7 192.5,470.9 192.7,471.2 192.8,471.5 192.8,472.1 192.8,472.7 192.8,473.3 192.8,473.9 192.8,474.5 192.8,475.1 192.8,475.7 192.8,476.3 192.8,476.9 192.8,477.5 192.8,478.1 192.8,478.7 192.8,479.3 192.8,479.9 192.8,480.5 192.8,481.1 192.8,481.7 192.8,482.3 192.8,482.9 192.8,483.5 192.8,484.1 192.8,484.7 192.8,485.3 192.8,485.9 192.8,486.5 192.8,487.1 192.8,487.7 192.8,488.3 192.8,488.9 192.8,489.5 192.9,490.1 192.9,490.7 192.9,491.3 192.9,491.9 192.9,492.5 192.9,493.1 192.9,493.7 192.9,494.3 192.9,494.9 192.9,495.5 192.9,496.1 192.9,496.7 192.9,497.3 192.9,497.9 192.9,498.5 192.9,499.1 192.9,499.7 192.9,500.3 192.9,500.9 192.9,501.5 193,502.1 193,502.7 193,503.3 193,503.9 193,504.5 193,505.1 193,505.7 193,506.3 193,506.9 193,507.5 193,508.1 193,508.7 193.1,509.3 193.1,509.9 193.1,510.5 193.1,511.1 193.1,511.7 193.1,512.3 193.2,512.9 193.3,513.5 193.4,514.1 193.5,514.7 193.6,515.3 193.7,515.9 193.8,516.5 194,517.1 194.2,517.7 194.4,518.3 194.7,518.9 194.9,519.5 195.1,520.1 195.3,520.7 195.5,521.3 195.7,521.9 195.8,522.5 195.9,523.1 196,523.7 196.1,524.3 196.2,524.9 196.3,525.5 196.4,526.1 196.5,526.7 196.5,527.3 196.6,527.9 196.7,528.5 196.7,529.1 196.7,529.7 196.8,530.3 196.8,530.9 196.9,531.5 196.9,532.1 197,532.7 197,533.3 197.1,533.9 197.3,534.5 197.6,535.1 198,535.7 198.3,536.3 198.6,536.9 198.9,537.5 199.3,538.1 199.6,538.7 199.8,539.3 199.8,539.9 199.8,540.5 199.8,541.1 199.8,541.7 199.8,542.3 199.8,542.9 199.8,543.2 182.8,543.2 182.8,542.9 182.8,542.3 182.8,541.7 182.8,541.1 182.8,540.5 182.8,539.9 182.8,539.3 183,538.7 183.3,538.1 183.7,537.5 184,536.9 184.3,536.3 184.6,535.7 185,535.1 185.3,534.5 185.5,533.9 185.6,533.3 185.6,532.7 185.7,532.1 185.7,531.5 185.8,530.9 185.8,530.3 185.9,529.7 185.9,529.1 185.9,528.5 186,527.9 186.1,527.3 186.1,526.7 186.2,526.1 186.3,525.5 186.4,524.9 186.5,524.3 186.6,523.7 186.7,523.1 186.8,522.5 186.9,521.9 187.1,521.3 187.3,520.7 187.5,520.1 187.7,519.5 187.9,518.9 188.2,518.3 188.4,517.7 188.6,517.1 188.8,516.5 188.9,515.9 189,515.3 189.1,514.7 189.2,514.1 189.3,513.5 189.4,512.9 189.5,512.3 189.5,511.7 189.5,511.1 189.5,510.5 189.5,509.9 189.5,509.3 189.6,508.7 189.6,508.1 189.6,507.5 189.6,506.9 189.6,506.3 189.6,505.7 189.6,505.1 189.6,504.5 189.6,503.9 189.6,503.3 189.6,502.7 189.6,502.1 189.7,501.5 189.7,500.9 189.7,500.3 189.7,499.7 189.7,499.1 189.7,498.5 189.7,497.9 189.7,497.3 189.7,496.7 189.7,496.1 189.7,495.5 189.7,494.9 189.7,494.3 189.7,493.7 189.7,493.1 189.7,492.5 189.7,491.9 189.7,491.3 189.7,490.7 189.7,490.1 189.8,489.5 189.8,488.9 189.8,488.3 189.8,487.7 189.8,487.1 189.8,486.5 189.8,485.9 189.8,485.3 189.8,484.7 189.8,484.1 189.8,483.5 189.8,482.9 189.8,482.3 189.8,481.7 189.8,481.1 189.8,480.5 189.8,479.9 189.8,479.3 189.8,478.7 189.8,478.1 189.8,477.5 189.8,476.9 189.8,476.3 189.8,475.7 189.8,475.1 189.8,474.5 189.8,473.9 189.8,473.3 189.8,472.7 189.8,472.1 189.8,471.5 189.9,471.2 190.1,470.9 190.4,470.7 190.7,470.6Z" fill="#25a2e0" stroke="#16699c" stroke-width="0.7" stroke-linejoin="round"/>
<path d="M206.6,481.4 206.9,481.5 207.2,481.7 207.4,482 207.5,482.3 207.5,482.9 207.5,483.5 207.5,484.1 207.5,484.7 207.5,485.3 207.5,485.9 207.5,486.5 207.5,487.1 207.5,487.7 207.5,488.3 207.5,488.9 207.5,489.5 207.5,490.1 207.5,490.7 207.5,491.3 207.5,491.9 207.5,492.5 207.5,493.1 207.5,493.7 207.5,494.3 207.5,494.9 207.5,495.5 207.5,496.1 207.5,496.7 207.5,497.3 207.5,497.9 207.5,498.5 207.5,499.1 207.5,499.7 207.5,500.3 207.5,500.9 207.5,501.5 207.5,502.1 207.5,502.7 207.5,503.3 207.5,503.9 207.5,504.5 207.5,505.1 207.5,505.7 207.5,506.3 207.5,506.9 207.5,507.5 207.5,508.1 207.5,508.7 207.5,509.3 207.5,509.9 207.5,510.5 207.5,511.1 207.5,511.7 207.5,512.3 207.5,512.9 207.5,513.5 207.5,514.1 207.5,514.7 207.6,515.3 207.6,515.9 207.6,516.5 207.6,517.1 207.6,517.7 207.6,518.3 207.6,518.9 207.6,519.5 207.6,520.1 207.6,520.7 207.6,521.3 207.6,521.9 207.6,522.5 207.6,523.1 207.6,523.7 207.6,524.3 207.6,524.9 207.7,525.5 207.8,526.1 208,526.7 208.1,527.3 208.2,527.9 208.2,528.5 208.3,529.1 208.3,529.7 208.3,530.3 208.3,530.9 208.3,531.5 208.3,532.1 208.3,532.7 208.4,533.3 208.4,533.9 208.6,534.5 209,535.1 209.5,535.7 210,536.3 210.5,536.9 211.1,537.5 211.8,538.1 212.5,538.7 213,539.3 213.3,539.9 213.5,540.5 213.7,541.1 213.8,541.7 213.9,542.3 214,542.9 214,543.2 198,543.2 198,542.9 198.1,542.3 198.2,541.7 198.3,541.1 198.5,540.5 198.7,539.9 199,539.3 199.5,538.7 200.2,538.1 200.9,537.5 201.5,536.9 202,536.3 202.5,535.7 203,535.1 203.4,534.5 203.6,533.9 203.6,533.3 203.7,532.7 203.7,532.1 203.7,531.5 203.7,530.9 203.7,530.3 203.7,529.7 203.7,529.1 203.8,528.5 203.8,527.9 203.9,527.3 204,526.7 204.2,526.1 204.3,525.5 204.4,524.9 204.4,524.3 204.4,523.7 204.4,523.1 204.4,522.5 204.4,521.9 204.4,521.3 204.4,520.7 204.4,520.1 204.4,519.5 204.4,518.9 204.4,518.3 204.4,517.7 204.4,517.1 204.4,516.5 204.4,515.9 204.4,515.3 204.5,514.7 204.5,514.1 204.5,513.5 204.5,512.9 204.5,512.3 204.5,511.7 204.5,511.1 204.5,510.5 204.5,509.9 204.5,509.3 204.5,508.7 204.5,508.1 204.5,507.5 204.5,506.9 204.5,506.3 204.5,505.7 204.5,505.1 204.5,504.5 204.5,503.9 204.5,503.3 204.5,502.7 204.5,502.1 204.5,501.5 204.5,500.9 204.5,500.3 204.5,499.7 204.5,499.1 204.5,498.5 204.5,497.9 204.5,497.3 204.5,496.7 204.5,496.1 204.5,495.5 204.5,494.9 204.5,494.3 204.5,493.7 204.5,493.1 204.5,492.5 204.5,491.9 204.5,491.3 204.5,490.7 204.5,490.1 204.5,489.5 204.5,488.9 204.5,488.3 204.5,487.7 204.5,487.1 204.5,486.5 204.5,485.9 204.5,485.3 204.5,484.7 204.5,484.1 204.5,483.5 204.5,482.9 204.5,482.3 204.6,482 204.8,481.7 205.1,481.5 205.4,481.4Z" fill="#10538c" stroke="#0a3a62" stroke-width="0.7" stroke-linejoin="round"/>
<path d="M224.9,502.5 225.2,502.5 225.5,502.7 225.7,503 225.8,503.4 225.8,504 225.7,504.6 225.7,505.2 225.7,505.8 225.7,506.4 225.7,507 225.7,507.6 225.7,508.2 225.7,508.8 225.7,509.4 225.7,510 225.7,510.6 225.7,511.2 225.8,511.8 225.9,512.4 226,513 226.1,513.6 226.2,514.2 226.3,514.8 226.5,515.4 226.6,516 226.7,516.6 226.8,517.2 226.9,517.8 227,518.4 227.1,519 227.3,519.6 227.4,520.2 227.5,520.8 227.6,521.4 227.7,522 227.8,522.6 227.9,523.2 228,523.8 228,524.4 228.1,525 228.2,525.6 228.2,526.2 228.2,526.8 228.3,527.4 228.3,528 228.3,528.6 228.3,529.2 228.4,529.8 228.4,530.4 228.5,531 228.5,531.6 228.6,532.2 228.7,532.8 228.8,533.4 229.1,534 229.3,534.6 229.7,535.2 230,535.8 230.3,536.4 230.6,537 231,537.6 231.5,538.2 231.9,538.8 232.2,539.4 232.2,540 232.2,540.6 232.2,541.2 232.2,541.8 232.2,542.4 232.2,543 232.2,543.2 215.8,543.2 215.8,543 215.8,542.4 215.8,541.8 215.8,541.2 215.8,540.6 215.8,540 215.8,539.4 216.1,538.8 216.5,538.2 217,537.6 217.4,537 217.7,536.4 218,535.8 218.3,535.2 218.7,534.6 218.9,534 219.2,533.4 219.3,532.8 219.4,532.2 219.5,531.6 219.5,531 219.6,530.4 219.6,529.8 219.7,529.2 219.7,528.6 219.7,528 219.7,527.4 219.8,526.8 219.8,526.2 219.8,525.6 219.9,525 220,524.4 220,523.8 220.1,523.2 220.2,522.6 220.3,522 220.4,521.4 220.5,520.8 220.6,520.2 220.7,519.6 220.9,519 221,518.4 221.1,517.8 221.2,517.2 221.3,516.6 221.4,516 221.5,515.4 221.7,514.8 221.8,514.2 221.9,513.6 222,513 222.1,512.4 222.2,511.8 222.3,511.2 222.3,510.6 222.3,510 222.3,509.4 222.3,508.8 222.3,508.2 222.3,507.6 222.3,507 222.3,506.4 222.3,505.8 222.3,505.2 222.3,504.6 222.2,504 222.2,503.4 222.3,503 222.5,502.7 222.8,502.5 223.1,502.5Z" fill="#25a2e0" stroke="#16699c" stroke-width="0.7" stroke-linejoin="round"/>
<path d="M240,502 240.3,502.1 240.6,502.3 240.8,502.6 240.9,502.9 240.8,503.5 240.7,504.1 240.7,504.7 240.7,505.3 240.7,505.9 240.6,506.5 240.6,507.1 240.6,507.7 240.6,508.3 240.6,508.9 240.6,509.5 240.6,510.1 240.6,510.7 240.6,511.3 240.6,511.9 240.6,512.5 240.7,513.1 240.8,513.7 240.9,514.3 241,514.9 241,515.5 241.1,516.1 241.2,516.7 241.2,517.3 241.2,517.9 241.2,518.5 241.1,519.1 241.1,519.7 241,520.3 241,520.9 240.9,521.5 240.9,522.1 240.8,522.7 240.8,523.3 240.7,523.9 240.7,524.5 240.7,525.1 240.7,525.7 240.7,526.3 240.7,526.9 240.7,527.5 240.7,528.1 240.8,528.7 240.8,529.3 240.8,529.9 240.8,530.5 240.8,531.1 240.9,531.7 240.9,532.3 241,532.9 241.3,533.5 241.8,534.1 242.3,534.7 242.8,535.3 243.4,535.9 244,536.5 244.5,537.1 245.2,537.7 246,538.3 246.6,538.9 247,539.5 247.1,540.1 247.1,540.7 247.2,541.3 247.3,541.9 247.3,542.5 247.3,543.1 247.3,543.2 230.9,543.2 230.9,543.1 230.9,542.5 230.9,541.9 231,541.3 231.1,540.7 231.1,540.1 231.2,539.5 231.6,538.9 232.2,538.3 233,537.7 233.7,537.1 234.2,536.5 234.8,535.9 235.4,535.3 235.9,534.7 236.4,534.1 236.9,533.5 237.2,532.9 237.3,532.3 237.3,531.7 237.4,531.1 237.4,530.5 237.4,529.9 237.4,529.3 237.4,528.7 237.5,528.1 237.5,527.5 237.5,526.9 237.5,526.3 237.5,525.7 237.5,525.1 237.5,524.5 237.5,523.9 237.4,523.3 237.4,522.7 237.3,522.1 237.3,521.5 237.2,520.9 237.2,520.3 237.1,519.7 237.1,519.1 237,518.5 237,517.9 237,517.3 237,516.7 237.1,516.1 237.2,515.5 237.2,514.9 237.3,514.3 237.4,513.7 237.5,513.1 237.6,512.5 237.6,511.9 237.6,511.3 237.6,510.7 237.6,510.1 237.6,509.5 237.6,508.9 237.6,508.3 237.6,507.7 237.6,507.1 237.6,506.5 237.5,505.9 237.5,505.3 237.5,504.7 237.5,504.1 237.4,503.5 237.3,502.9 237.4,502.6 237.6,502.3 237.9,502.1 238.2,502Z" fill="#10538c" stroke="#0a3a62" stroke-width="0.7" stroke-linejoin="round"/>
<line x1="47.6" y1="535.6" x2="251.3" y2="535.6" stroke="#f2c266" stroke-width="1.2" stroke-opacity="0.8"/>
<path d="M47.5,421.2 V547.2 H251" fill="none" stroke="#0a0a0a" stroke-width="1.05" stroke-linejoin="miter"/>
<line x1="44.3" y1="542" x2="47.5" y2="542" stroke="#0a0a0a" stroke-width="1.15"/>
<text x="40.5" y="544.7" font-size="7.7" text-anchor="end" font-weight="normal" >0</text>
<line x1="44.3" y1="535.9" x2="47.5" y2="535.9" stroke="#0a0a0a" stroke-width="1.15"/>
<text x="40.5" y="538.6" font-size="7.7" text-anchor="end" font-weight="normal" >500</text>
<line x1="44.3" y1="517.6" x2="47.5" y2="517.6" stroke="#0a0a0a" stroke-width="1.15"/>
<text x="40.5" y="520.3" font-size="7.7" text-anchor="end" font-weight="normal" >2000</text>
<line x1="44.3" y1="493.3" x2="47.5" y2="493.3" stroke="#0a0a0a" stroke-width="1.15"/>
<text x="40.5" y="496" font-size="7.7" text-anchor="end" font-weight="normal" >4000</text>
<line x1="44.3" y1="468.9" x2="47.5" y2="468.9" stroke="#0a0a0a" stroke-width="1.15"/>
<text x="40.5" y="471.6" font-size="7.7" text-anchor="end" font-weight="normal" >6000</text>
<line x1="66.2" y1="547.2" x2="66.2" y2="550.4" stroke="#0a0a0a" stroke-width="1.15"/>
<text x="66.2" y="560.2" font-size="7.7" text-anchor="middle" font-weight="normal" >&#8722;1</text>
<line x1="99.2" y1="547.2" x2="99.2" y2="550.4" stroke="#0a0a0a" stroke-width="1.15"/>
<text x="99.2" y="560.2" font-size="7.7" text-anchor="middle" font-weight="normal" >0</text>
<line x1="132.2" y1="547.2" x2="132.2" y2="550.4" stroke="#0a0a0a" stroke-width="1.15"/>
<text x="132.2" y="560.2" font-size="7.7" text-anchor="middle" font-weight="normal" >1</text>
<line x1="165.2" y1="547.2" x2="165.2" y2="550.4" stroke="#0a0a0a" stroke-width="1.15"/>
<text x="165.2" y="560.2" font-size="7.7" text-anchor="middle" font-weight="normal" >2</text>
<line x1="198.2" y1="547.2" x2="198.2" y2="550.4" stroke="#0a0a0a" stroke-width="1.15"/>
<text x="198.2" y="560.2" font-size="7.7" text-anchor="middle" font-weight="normal" >3</text>
<line x1="231.2" y1="547.2" x2="231.2" y2="550.4" stroke="#0a0a0a" stroke-width="1.15"/>
<text x="231.2" y="560.2" font-size="7.7" text-anchor="middle" font-weight="normal" >4</text>
<text x="0" y="575.2" font-size="9.8" stroke="#222" stroke-width="0.35" text-anchor="middle" transform="translate(148.9,0) scale(0.70,1) translate(0,0)" fill="#222">Weeks from CAR T-cell infusion</text>
<text x="0" y="0" font-size="9.8" stroke="#222" stroke-width="0.35" text-anchor="middle" transform="translate(16.5,484.9) rotate(-90) scale(0.756,1)" fill="#222">ANC (/ &#181;L)</text>
<rect x="192" y="440.8" width="6.6" height="6.3" fill="#25a2e0" stroke="#16699c" stroke-width="0.6"/>
<rect x="192" y="452.9" width="6.6" height="6.3" fill="#10538c" stroke="#0a3a62" stroke-width="0.6"/>
<text x="201.8" y="446.2" font-size="7.3" text-anchor="start" font-weight="normal" >Low (0)</text>
<text x="201.8" y="458.3" font-size="7.3" text-anchor="start" font-weight="normal" >High (1-4)</text>
<text x="0" y="0" font-size="13.8" font-weight="bold" fill="#000" stroke="#000" stroke-width="0.5" transform="translate(269.2,403) scale(0.86,1)">E</text>
<text x="408.6" y="399.4" font-size="9.6" text-anchor="middle" font-weight="normal" >ANC over time by risk of PSN</text>
<text x="410.2" y="411.1" font-size="9.6" text-anchor="middle" font-weight="normal" >Pre and post infusion 7 point model</text>
<path d="M332.7,428 333,428.1 333.3,428.2 333.5,428.5 333.6,428.8 333.6,429.4 333.6,430 333.6,430.6 333.6,431.2 333.6,431.8 333.6,432.4 333.6,433 333.6,433.6 333.6,434.2 333.6,434.8 333.6,435.4 333.6,436 333.6,436.6 333.6,437.2 333.6,437.8 333.6,438.4 333.6,439 333.6,439.6 333.6,440.2 333.6,440.8 333.6,441.4 333.6,442 333.6,442.6 333.6,443.2 333.6,443.8 333.6,444.4 333.6,445 333.6,445.6 333.6,446.2 333.6,446.8 333.6,447.4 333.6,448 333.6,448.6 333.6,449.2 333.6,449.8 333.6,450.4 333.6,451 333.6,451.6 333.6,452.2 333.6,452.8 333.6,453.4 333.6,454 333.6,454.6 333.6,455.2 333.6,455.8 333.6,456.4 333.6,457 333.6,457.6 333.6,458.2 333.6,458.8 333.6,459.4 333.6,460 333.6,460.6 333.6,461.2 333.6,461.8 333.6,462.4 333.6,463 333.6,463.6 333.6,464.2 333.6,464.8 333.6,465.4 333.6,466 333.6,466.6 333.6,467.2 333.6,467.8 333.6,468.4 333.6,469 333.6,469.6 333.6,470.2 333.6,470.8 333.6,471.4 333.6,472 333.6,472.6 333.6,473.2 333.6,473.8 333.6,474.4 333.6,475 333.6,475.6 333.6,476.2 333.6,476.8 333.6,477.4 333.6,478 333.6,478.6 333.6,479.2 333.6,479.8 333.6,480.4 333.6,481 333.6,481.6 333.6,482.2 333.6,482.8 333.6,483.4 333.6,484 333.6,484.6 333.6,485.2 333.7,485.8 333.7,486.4 333.7,487 333.7,487.6 333.7,488.2 333.7,488.8 333.7,489.4 333.7,490 333.7,490.6 333.7,491.2 333.7,491.8 333.7,492.4 333.7,493 333.7,493.6 333.7,494.2 333.7,494.8 333.7,495.4 333.7,496 333.8,496.6 333.9,497.2 334,497.8 334.2,498.4 334.3,499 334.3,499.6 334.4,500.2 334.4,500.8 334.4,501.4 334.3,502 334.2,502.6 334.1,503.2 334,503.8 333.9,504.4 333.9,505 333.9,505.6 333.9,506.2 333.9,506.8 334,507.4 334,508 334,508.6 334.1,509.2 334.1,509.8 334.2,510.4 334.2,511 334.3,511.6 334.3,512.2 334.4,512.8 334.5,513.4 334.6,514 334.7,514.6 334.9,515.2 335.1,515.8 335.2,516.4 335.4,517 335.6,517.6 335.8,518.2 335.9,518.8 336.1,519.4 336.3,520 336.4,520.6 336.6,521.2 336.8,521.8 337,522.4 337.1,523 337.3,523.6 337.4,524.2 337.5,524.8 337.5,525.4 337.6,526 337.6,526.6 337.6,527.2 337.6,527.8 337.7,528.4 337.7,529 337.8,529.6 337.9,530.2 338,530.8 338.4,531.4 338.9,532 339.5,532.6 340.2,533.2 340.8,533.8 341.4,534.4 342.1,535 343,535.6 343.8,536.2 344.5,536.8 345.2,537.4 345.6,538 346,538.6 346.4,539.2 346.8,539.8 347.1,540.4 347.3,541 347.5,541.6 347.7,542.2 347.7,542.5 316.7,542.5 316.7,542.2 316.9,541.6 317.1,541 317.3,540.4 317.6,539.8 318,539.2 318.4,538.6 318.8,538 319.2,537.4 319.9,536.8 320.6,536.2 321.4,535.6 322.3,535 323,534.4 323.6,533.8 324.2,533.2 324.9,532.6 325.5,532 326,531.4 326.4,530.8 326.5,530.2 326.6,529.6 326.7,529 326.7,528.4 326.8,527.8 326.8,527.2 326.8,526.6 326.8,526 326.9,525.4 326.9,524.8 327,524.2 327.1,523.6 327.3,523 327.4,522.4 327.6,521.8 327.8,521.2 328,520.6 328.1,520 328.3,519.4 328.5,518.8 328.6,518.2 328.8,517.6 329,517 329.2,516.4 329.3,515.8 329.5,515.2 329.7,514.6 329.8,514 329.9,513.4 330,512.8 330.1,512.2 330.1,511.6 330.2,511 330.2,510.4 330.3,509.8 330.3,509.2 330.4,508.6 330.4,508 330.4,507.4 330.5,506.8 330.5,506.2 330.5,505.6 330.5,505 330.5,504.4 330.4,503.8 330.3,503.2 330.2,502.6 330.1,502 330,501.4 330,500.8 330,500.2 330.1,499.6 330.1,499 330.2,498.4 330.4,497.8 330.5,497.2 330.6,496.6 330.7,496 330.7,495.4 330.7,494.8 330.7,494.2 330.7,493.6 330.7,493 330.7,492.4 330.7,491.8 330.7,491.2 330.7,490.6 330.7,490 330.7,489.4 330.7,488.8 330.7,488.2 330.7,487.6 330.7,487 330.7,486.4 330.7,485.8 330.8,485.2 330.8,484.6 330.8,484 330.8,483.4 330.8,482.8 330.8,482.2 330.8,481.6 330.8,481 330.8,480.4 330.8,479.8 330.8,479.2 330.8,478.6 330.8,478 330.8,477.4 330.8,476.8 330.8,476.2 330.8,475.6 330.8,475 330.8,474.4 330.8,473.8 330.8,473.2 330.8,472.6 330.8,472 330.8,471.4 330.8,470.8 330.8,470.2 330.8,469.6 330.8,469 330.8,468.4 330.8,467.8 330.8,467.2 330.8,466.6 330.8,466 330.8,465.4 330.8,464.8 330.8,464.2 330.8,463.6 330.8,463 330.8,462.4 330.8,461.8 330.8,461.2 330.8,460.6 330.8,460 330.8,459.4 330.8,458.8 330.8,458.2 330.8,457.6 330.8,457 330.8,456.4 330.8,455.8 330.8,455.2 330.8,454.6 330.8,454 330.8,453.4 330.8,452.8 330.8,452.2 330.8,451.6 330.8,451 330.8,450.4 330.8,449.8 330.8,449.2 330.8,448.6 330.8,448 330.8,447.4 330.8,446.8 330.8,446.2 330.8,445.6 330.8,445 330.8,444.4 330.8,443.8 330.8,443.2 330.8,442.6 330.8,442 330.8,441.4 330.8,440.8 330.8,440.2 330.8,439.6 330.8,439 330.8,438.4 330.8,437.8 330.8,437.2 330.8,436.6 330.8,436 330.8,435.4 330.8,434.8 330.8,434.2 330.8,433.6 330.8,433 330.8,432.4 330.8,431.8 330.8,431.2 330.8,430.6 330.8,430 330.8,429.4 330.8,428.8 330.9,428.5 331.1,428.2 331.4,428.1 331.7,428Z" fill="#25a2e0" stroke="#16699c" stroke-width="0.7" stroke-linejoin="round"/>
<line x1="360.7" y1="514.4" x2="360.7" y2="540.9" stroke="#10538c" stroke-width="2.3" stroke-linecap="round"/>
<ellipse cx="360.7" cy="514.4" rx="2.2" ry="1.4" fill="#10538c"/>
<ellipse cx="360.7" cy="531.5" rx="2" ry="2" fill="#10538c"/>
<rect x="345.2" y="540.4" width="30.9" height="2.5" rx="1.2" fill="#10538c" stroke="#0a3a62" stroke-width="0.5"/>
<path d="M396.4,426.2 396.7,426.3 397,426.4 397.1,426.7 397.2,427 397.2,427.6 397.2,428.2 397.2,428.8 397.2,429.4 397.2,430 397.2,430.6 397.2,431.2 397.2,431.8 397.2,432.4 397.2,433 397.2,433.6 397.2,434.2 397.2,434.8 397.2,435.4 397.2,436 397.2,436.6 397.2,437.2 397.2,437.8 397.2,438.4 397.2,439 397.2,439.6 397.2,440.2 397.2,440.8 397.2,441.4 397.2,442 397.2,442.6 397.2,443.2 397.2,443.8 397.2,444.4 397.2,445 397.2,445.6 397.2,446.2 397.2,446.8 397.2,447.4 397.2,448 397.2,448.6 397.2,449.2 397.2,449.8 397.2,450.4 397.2,451 397.2,451.6 397.2,452.2 397.2,452.8 397.2,453.4 397.2,454 397.2,454.6 397.2,455.2 397.2,455.8 397.2,456.4 397.2,457 397.2,457.6 397.2,458.2 397.2,458.8 397.2,459.4 397.2,460 397.2,460.6 397.2,461.2 397.2,461.8 397.2,462.4 397.2,463 397.2,463.6 397.2,464.2 397.2,464.8 397.2,465.4 397.2,466 397.2,466.6 397.3,467.2 397.3,467.8 397.3,468.4 397.3,469 397.3,469.6 397.3,470.2 397.3,470.8 397.3,471.4 397.3,472 397.3,472.6 397.3,473.2 397.3,473.8 397.3,474.4 397.3,475 397.3,475.6 397.3,476.2 397.3,476.8 397.3,477.4 397.3,478 397.3,478.6 397.3,479.2 397.4,479.8 397.4,480.4 397.5,481 397.7,481.6 397.8,482.2 397.9,482.8 398.1,483.4 398.1,484 398.2,484.6 398.2,485.2 398.2,485.8 398.1,486.4 398,487 397.9,487.6 397.8,488.2 397.7,488.8 397.6,489.4 397.5,490 397.5,490.6 397.5,491.2 397.5,491.8 397.6,492.4 397.6,493 397.7,493.6 397.8,494.2 397.9,494.8 397.9,495.4 398,496 398.1,496.6 398.2,497.2 398.3,497.8 398.4,498.4 398.5,499 398.6,499.6 398.7,500.2 398.8,500.8 398.9,501.4 399,502 399.1,502.6 399.2,503.2 399.3,503.8 399.4,504.4 399.5,505 399.6,505.6 399.7,506.2 399.8,506.8 399.9,507.4 400,508 400.1,508.6 400.2,509.2 400.3,509.8 400.4,510.4 400.5,511 400.6,511.6 400.7,512.2 400.8,512.8 400.9,513.4 400.9,514 401,514.6 401,515.2 401.1,515.8 401.2,516.4 401.2,517 401.2,517.6 401.3,518.2 401.3,518.8 401.4,519.4 401.4,520 401.5,520.6 401.5,521.2 401.6,521.8 401.6,522.4 401.7,523 401.7,523.6 401.8,524.2 401.8,524.8 401.9,525.4 401.9,526 402,526.6 402.1,527.2 402.1,527.8 402.2,528.4 402.4,529 402.6,529.6 402.9,530.2 403.3,530.8 403.7,531.4 404.2,532 404.7,532.6 405.3,533.2 405.9,533.8 406.6,534.4 407.3,535 407.8,535.6 408.3,536.2 408.8,536.8 409.2,537.4 409.7,538 410,538.6 410.3,539.2 410.6,539.8 410.9,540.4 411.1,541 411.3,541.6 411.4,542.2 411.5,542.5 380.1,542.5 380.2,542.2 380.3,541.6 380.5,541 380.7,540.4 381,539.8 381.3,539.2 381.6,538.6 381.9,538 382.4,537.4 382.8,536.8 383.3,536.2 383.8,535.6 384.3,535 385,534.4 385.7,533.8 386.3,533.2 386.9,532.6 387.4,532 387.9,531.4 388.3,530.8 388.7,530.2 389,529.6 389.2,529 389.4,528.4 389.5,527.8 389.5,527.2 389.6,526.6 389.7,526 389.7,525.4 389.8,524.8 389.8,524.2 389.9,523.6 389.9,523 390,522.4 390,521.8 390.1,521.2 390.1,520.6 390.2,520 390.2,519.4 390.3,518.8 390.3,518.2 390.4,517.6 390.4,517 390.4,516.4 390.5,515.8 390.6,515.2 390.6,514.6 390.7,514 390.7,513.4 390.8,512.8 390.9,512.2 391,511.6 391.1,511 391.2,510.4 391.3,509.8 391.4,509.2 391.5,508.6 391.6,508 391.7,507.4 391.8,506.8 391.9,506.2 392,505.6 392.1,505 392.2,504.4 392.3,503.8 392.4,503.2 392.5,502.6 392.6,502 392.7,501.4 392.8,500.8 392.9,500.2 393,499.6 393.1,499 393.2,498.4 393.3,497.8 393.4,497.2 393.5,496.6 393.6,496 393.7,495.4 393.7,494.8 393.8,494.2 393.9,493.6 394,493 394,492.4 394.1,491.8 394.1,491.2 394.1,490.6 394.1,490 394,489.4 393.9,488.8 393.8,488.2 393.7,487.6 393.6,487 393.5,486.4 393.4,485.8 393.4,485.2 393.4,484.6 393.5,484 393.5,483.4 393.7,482.8 393.8,482.2 393.9,481.6 394.1,481 394.2,480.4 394.2,479.8 394.3,479.2 394.3,478.6 394.3,478 394.3,477.4 394.3,476.8 394.3,476.2 394.3,475.6 394.3,475 394.3,474.4 394.3,473.8 394.3,473.2 394.3,472.6 394.3,472 394.3,471.4 394.3,470.8 394.3,470.2 394.3,469.6 394.3,469 394.3,468.4 394.3,467.8 394.3,467.2 394.4,466.6 394.4,466 394.4,465.4 394.4,464.8 394.4,464.2 394.4,463.6 394.4,463 394.4,462.4 394.4,461.8 394.4,461.2 394.4,460.6 394.4,460 394.4,459.4 394.4,458.8 394.4,458.2 394.4,457.6 394.4,457 394.4,456.4 394.4,455.8 394.4,455.2 394.4,454.6 394.4,454 394.4,453.4 394.4,452.8 394.4,452.2 394.4,451.6 394.4,451 394.4,450.4 394.4,449.8 394.4,449.2 394.4,448.6 394.4,448 394.4,447.4 394.4,446.8 394.4,446.2 394.4,445.6 394.4,445 394.4,444.4 394.4,443.8 394.4,443.2 394.4,442.6 394.4,442 394.4,441.4 394.4,440.8 394.4,440.2 394.4,439.6 394.4,439 394.4,438.4 394.4,437.8 394.4,437.2 394.4,436.6 394.4,436 394.4,435.4 394.4,434.8 394.4,434.2 394.4,433.6 394.4,433 394.4,432.4 394.4,431.8 394.4,431.2 394.4,430.6 394.4,430 394.4,429.4 394.4,428.8 394.4,428.2 394.4,427.6 394.4,427 394.5,426.7 394.6,426.4 394.9,426.3 395.2,426.2Z" fill="#25a2e0" stroke="#16699c" stroke-width="0.7" stroke-linejoin="round"/>
<line x1="424.9" y1="502.2" x2="424.9" y2="540.9" stroke="#10538c" stroke-width="2.3" stroke-linecap="round"/>
<ellipse cx="424.9" cy="502.2" rx="1.8" ry="1.4" fill="#10538c"/>
<ellipse cx="424.9" cy="517.9" rx="2" ry="2" fill="#10538c"/>
<ellipse cx="424.9" cy="532.2" rx="2" ry="2" fill="#10538c"/>
<rect x="409.3" y="540.4" width="31.2" height="2.5" rx="1.2" fill="#10538c" stroke="#0a3a62" stroke-width="0.5"/>
<path d="M460.1,475.5 461.1,475.7 461.9,476.3 462.5,477.1 462.7,478.1 462.7,478.7 462.7,479.3 462.7,479.9 462.7,480.5 462.7,481.1 462.7,481.7 462.7,482.3 462.7,482.9 462.7,483.5 462.7,484.1 462.7,484.7 462.7,485.3 462.7,485.9 462.8,486.5 462.8,487.1 462.8,487.7 462.9,488.3 462.9,488.9 463,489.5 463,490.1 463.1,490.7 463.1,491.3 463.2,491.9 463.2,492.5 463.3,493.1 463.3,493.7 463.4,494.3 463.4,494.9 463.5,495.5 463.5,496.1 463.6,496.7 463.6,497.3 463.7,497.9 463.7,498.5 463.8,499.1 463.8,499.7 463.9,500.3 463.9,500.9 464,501.5 464,502.1 464.1,502.7 464.1,503.3 464.2,503.9 464.2,504.5 464.3,505.1 464.3,505.7 464.4,506.3 464.4,506.9 464.5,507.5 464.5,508.1 464.6,508.7 464.6,509.3 464.7,509.9 464.7,510.5 464.8,511.1 464.8,511.7 464.9,512.3 464.9,512.9 465,513.5 465,514.1 465.1,514.7 465.2,515.3 465.2,515.9 465.3,516.5 465.4,517.1 465.5,517.7 465.6,518.3 465.7,518.9 465.8,519.5 465.9,520.1 466,520.7 466.1,521.3 466.3,521.9 466.4,522.5 466.6,523.1 466.7,523.7 466.9,524.3 467.1,524.9 467.3,525.5 467.6,526.1 467.8,526.7 468.1,527.3 468.4,527.9 468.7,528.5 469,529.1 469.3,529.7 469.7,530.3 470.1,530.9 470.5,531.5 470.9,532.1 471.3,532.7 471.7,533.3 472.1,533.9 472.6,534.5 473.1,535.1 473.5,535.7 473.9,536.3 474.3,536.9 474.5,537.5 474.8,538.1 475,538.7 475.2,539.3 475.4,539.9 475.6,540.5 475.8,541.1 475.9,541.7 476,542.3 476,542.5 443.6,542.5 443.6,542.3 443.7,541.7 443.8,541.1 444,540.5 444.2,539.9 444.4,539.3 444.6,538.7 444.8,538.1 445.1,537.5 445.3,536.9 445.7,536.3 446.1,535.7 446.5,535.1 447,534.5 447.5,533.9 447.9,533.3 448.3,532.7 448.7,532.1 449.1,531.5 449.5,530.9 449.9,530.3 450.3,529.7 450.6,529.1 450.9,528.5 451.2,527.9 451.5,527.3 451.8,526.7 452,526.1 452.3,525.5 452.5,524.9 452.7,524.3 452.9,523.7 453,523.1 453.2,522.5 453.3,521.9 453.5,521.3 453.6,520.7 453.7,520.1 453.8,519.5 453.9,518.9 454,518.3 454.1,517.7 454.2,517.1 454.3,516.5 454.4,515.9 454.4,515.3 454.5,514.7 454.6,514.1 454.6,513.5 454.7,512.9 454.7,512.3 454.8,511.7 454.8,511.1 454.9,510.5 454.9,509.9 455,509.3 455,508.7 455.1,508.1 455.1,507.5 455.2,506.9 455.2,506.3 455.3,505.7 455.3,505.1 455.4,504.5 455.4,503.9 455.5,503.3 455.5,502.7 455.6,502.1 455.6,501.5 455.7,500.9 455.7,500.3 455.8,499.7 455.8,499.1 455.9,498.5 455.9,497.9 456,497.3 456,496.7 456.1,496.1 456.1,495.5 456.2,494.9 456.2,494.3 456.3,493.7 456.3,493.1 456.4,492.5 456.4,491.9 456.5,491.3 456.5,490.7 456.6,490.1 456.6,489.5 456.7,488.9 456.7,488.3 456.8,487.7 456.8,487.1 456.8,486.5 456.9,485.9 456.9,485.3 456.9,484.7 456.9,484.1 456.9,483.5 456.9,482.9 456.9,482.3 456.9,481.7 456.9,481.1 456.9,480.5 456.9,479.9 456.9,479.3 456.9,478.7 456.9,478.1 457.1,477.1 457.7,476.3 458.5,475.7 459.5,475.5Z" fill="#25a2e0" stroke="#16699c" stroke-width="0.7" stroke-linejoin="round"/>
<line x1="488.1" y1="488.8" x2="488.1" y2="540.9" stroke="#10538c" stroke-width="2.3" stroke-linecap="round"/>
<ellipse cx="488.1" cy="488.8" rx="1.9" ry="1.4" fill="#10538c"/>
<ellipse cx="488.1" cy="510.3" rx="2" ry="2" fill="#10538c"/>
<ellipse cx="488.1" cy="533.6" rx="2" ry="2" fill="#10538c"/>
<rect x="472.2" y="540.4" width="31.8" height="2.5" rx="1.2" fill="#10538c" stroke="#0a3a62" stroke-width="0.5"/>
<line x1="308" y1="531.3" x2="512" y2="531.3" stroke="#f2c266" stroke-width="1.2" stroke-opacity="0.8"/>
<path d="M308.5,417.5 V546.5 H512" fill="none" stroke="#0a0a0a" stroke-width="1.05" stroke-linejoin="miter"/>
<line x1="305.3" y1="541.2" x2="308.5" y2="541.2" stroke="#0a0a0a" stroke-width="1.15"/>
<text x="301.5" y="544" font-size="7.7" text-anchor="end" font-weight="normal" >0</text>
<line x1="305.3" y1="531.2" x2="308.5" y2="531.2" stroke="#0a0a0a" stroke-width="1.15"/>
<text x="301.5" y="534" font-size="7.7" text-anchor="end" font-weight="normal" >500</text>
<line x1="305.3" y1="501.2" x2="308.5" y2="501.2" stroke="#0a0a0a" stroke-width="1.15"/>
<text x="301.5" y="503.9" font-size="7.7" text-anchor="end" font-weight="normal" >2000</text>
<line x1="305.3" y1="461.2" x2="308.5" y2="461.2" stroke="#0a0a0a" stroke-width="1.15"/>
<text x="301.5" y="463.9" font-size="7.7" text-anchor="end" font-weight="normal" >4000</text>
<line x1="305.3" y1="421.2" x2="308.5" y2="421.2" stroke="#0a0a0a" stroke-width="1.15"/>
<text x="301.5" y="423.9" font-size="7.7" text-anchor="end" font-weight="normal" >6000</text>
<line x1="346.2" y1="546.5" x2="346.2" y2="549.7" stroke="#0a0a0a" stroke-width="1.15"/>
<text x="346.2" y="559.5" font-size="7.7" text-anchor="middle" font-weight="normal" >2</text>
<line x1="410.2" y1="546.5" x2="410.2" y2="549.7" stroke="#0a0a0a" stroke-width="1.15"/>
<text x="410.2" y="559.5" font-size="7.7" text-anchor="middle" font-weight="normal" >3</text>
<line x1="473.8" y1="546.5" x2="473.8" y2="549.7" stroke="#0a0a0a" stroke-width="1.15"/>
<text x="473.8" y="559.5" font-size="7.7" text-anchor="middle" font-weight="normal" >4</text>
<text x="0" y="575.2" font-size="9.8" stroke="#222" stroke-width="0.35" text-anchor="middle" transform="translate(406.2,0) scale(0.70,1) translate(0,0)" fill="#222">Weeks from CAR T-cell infusion</text>
<text x="0" y="0" font-size="9.8" stroke="#222" stroke-width="0.35" text-anchor="middle" transform="translate(277,490.3) rotate(-90) scale(0.756,1)" fill="#222">ANC (/ &#181;L)</text>
<rect x="452.5" y="440" width="6.6" height="6.3" fill="#25a2e0" stroke="#16699c" stroke-width="0.6"/>
<rect x="452.5" y="452.1" width="6.6" height="6.3" fill="#10538c" stroke="#0a3a62" stroke-width="0.6"/>
<text x="462.9" y="445.4" font-size="7.3" text-anchor="start" font-weight="normal" >Low (0-3)</text>
<text x="462.9" y="457.5" font-size="7.3" text-anchor="start" font-weight="normal" >High (4-7)</text>
<rect x="0.5" y="0.5" width="519" height="584" fill="none" stroke="#5e5e5e" stroke-width="1"/>
</svg></body></html>
